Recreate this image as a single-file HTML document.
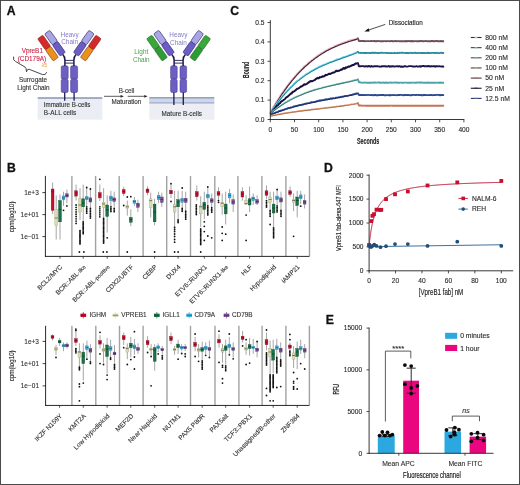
<!DOCTYPE html>
<html><head><meta charset="utf-8"><style>
html,body{margin:0;padding:0;background:#fff;}
body{width:520px;height:485px;overflow:hidden;font-family:"Liberation Sans",sans-serif;}
svg{display:block;will-change:transform;}
</style></head><body>
<svg width="520" height="485" viewBox="0 0 520 485">
<rect x="0" y="0" width="520" height="485" fill="#fff"/>
<text x="6.8" y="15.2" font-size="12.2" font-weight="bold" font-family="Liberation Sans, sans-serif" fill="#111" stroke="#111" stroke-width="0.3">A</text>
<rect x="37.7" y="98" width="64.6" height="21.6" fill="#eaedf3"/>
<rect x="37.7" y="97.2" width="64.6" height="1.6" fill="#8e9cbb"/>
<rect x="149.3" y="98" width="65" height="21.7" fill="#eceef4"/>
<rect x="149.3" y="98.6" width="65" height="3.8" fill="#cdd6ec"/>
<rect x="149.3" y="97.1" width="65" height="1.5" fill="#8a9ab8"/>
<rect x="149.3" y="102.3" width="65" height="1.2" fill="#9aa6c2"/>
<line x1="64.7" y1="90" x2="64.7" y2="100.8" stroke="#1e1a4a" stroke-width="1.3"/>
<rect x="61.2" y="65.8" width="7" height="13.4" rx="1.6" fill="#6d5fc2" stroke="#3b3286" stroke-width="0.5"/>
<rect x="61.2" y="79.2" width="7" height="13.3" rx="1.6" fill="#6d5fc2" stroke="#3b3286" stroke-width="0.5"/>
<line x1="74.10000000000001" y1="90" x2="74.10000000000001" y2="100.8" stroke="#1e1a4a" stroke-width="1.3"/>
<rect x="70.60000000000001" y="65.8" width="7" height="13.4" rx="1.6" fill="#6d5fc2" stroke="#3b3286" stroke-width="0.5"/>
<rect x="70.60000000000001" y="79.2" width="7" height="13.3" rx="1.6" fill="#6d5fc2" stroke="#3b3286" stroke-width="0.5"/>
<path d="M62.80,54.6 Q64.90,56.5 64.90,60 L64.90,66" fill="none" stroke="#1e1a4a" stroke-width="1.5"/>
<path d="M76.00,54.6 Q73.90,56.5 73.90,60 L73.90,66" fill="none" stroke="#1e1a4a" stroke-width="1.5"/>
<line x1="64.9" y1="60.4" x2="73.9" y2="60.4" stroke="#1e1a4a" stroke-width="0.9"/>
<line x1="64.9" y1="63.1" x2="73.9" y2="63.1" stroke="#1e1a4a" stroke-width="0.9"/>
<g transform="translate(62.80,54.3) rotate(-35)">
<rect x="-3.25" y="-27.2" width="6.5" height="13.6" rx="1.5" fill="#aaa6e4" stroke="#2c2672" stroke-width="0.6"/>
<rect x="-3.25" y="-13.6" width="6.5" height="13.6" rx="1.5" fill="#6b5dc4" stroke="#2c2672" stroke-width="0.6"/>
<rect x="-11.8" y="-27.2" width="6.5" height="13.6" rx="1.2" fill="#d42a2a" stroke="#7a2020" stroke-width="0.5"/>
<rect x="-11.8" y="-13.6" width="6.5" height="13.6" rx="1.2" fill="#e8921a" stroke="#7a2020" stroke-width="0.5"/>
</g>
<g transform="translate(76.00,54.3) rotate(35)">
<rect x="-3.25" y="-27.2" width="6.5" height="13.6" rx="1.5" fill="#aaa6e4" stroke="#2c2672" stroke-width="0.6"/>
<rect x="-3.25" y="-13.6" width="6.5" height="13.6" rx="1.5" fill="#6b5dc4" stroke="#2c2672" stroke-width="0.6"/>
<rect x="5.3" y="-27.2" width="6.5" height="13.6" rx="1.2" fill="#d42a2a" stroke="#7a2020" stroke-width="0.5"/>
<rect x="5.3" y="-13.6" width="6.5" height="13.6" rx="1.2" fill="#e8921a" stroke="#7a2020" stroke-width="0.5"/>
</g>
<line x1="173.9" y1="90" x2="173.9" y2="105" stroke="#1e1a4a" stroke-width="1.3"/>
<rect x="170.6" y="65.8" width="6.6" height="13.4" rx="1.6" fill="#6d5fc2" stroke="#3b3286" stroke-width="0.5"/>
<rect x="170.6" y="79.2" width="6.6" height="13.3" rx="1.6" fill="#6d5fc2" stroke="#3b3286" stroke-width="0.5"/>
<line x1="183.29999999999998" y1="90" x2="183.29999999999998" y2="105" stroke="#1e1a4a" stroke-width="1.3"/>
<rect x="179.99999999999997" y="65.8" width="6.6" height="13.4" rx="1.6" fill="#6d5fc2" stroke="#3b3286" stroke-width="0.5"/>
<rect x="179.99999999999997" y="79.2" width="6.6" height="13.3" rx="1.6" fill="#6d5fc2" stroke="#3b3286" stroke-width="0.5"/>
<path d="M171.80,54.6 Q174.10,56.5 174.10,60 L174.10,66" fill="none" stroke="#1e1a4a" stroke-width="1.5"/>
<path d="M185.40,54.6 Q183.10,56.5 183.10,60 L183.10,66" fill="none" stroke="#1e1a4a" stroke-width="1.5"/>
<line x1="174.1" y1="60.4" x2="183.1" y2="60.4" stroke="#1e1a4a" stroke-width="0.9"/>
<line x1="174.1" y1="63.1" x2="183.1" y2="63.1" stroke="#1e1a4a" stroke-width="0.9"/>
<g transform="translate(171.80,54.3) rotate(-35)">
<rect x="-3.25" y="-27.2" width="6.5" height="13.6" rx="1.5" fill="#aaa6e4" stroke="#2c2672" stroke-width="0.6"/>
<rect x="-3.25" y="-13.6" width="6.5" height="13.6" rx="1.5" fill="#6b5dc4" stroke="#2c2672" stroke-width="0.6"/>
<rect x="-11.8" y="-27.2" width="6.5" height="13.6" rx="1.2" fill="#38a838" stroke="#1f5a22" stroke-width="0.5"/>
<rect x="-11.8" y="-13.6" width="6.5" height="13.6" rx="1.2" fill="#2e9c34" stroke="#1f5a22" stroke-width="0.5"/>
</g>
<g transform="translate(185.40,54.3) rotate(35)">
<rect x="-3.25" y="-27.2" width="6.5" height="13.6" rx="1.5" fill="#aaa6e4" stroke="#2c2672" stroke-width="0.6"/>
<rect x="-3.25" y="-13.6" width="6.5" height="13.6" rx="1.5" fill="#6b5dc4" stroke="#2c2672" stroke-width="0.6"/>
<rect x="5.3" y="-27.2" width="6.5" height="13.6" rx="1.2" fill="#38a838" stroke="#1f5a22" stroke-width="0.5"/>
<rect x="5.3" y="-13.6" width="6.5" height="13.6" rx="1.2" fill="#2e9c34" stroke="#1f5a22" stroke-width="0.5"/>
</g>
<text x="69.6" y="36.8" font-size="6.4" text-anchor="middle" font-family="Liberation Sans, sans-serif" fill="#837ac4">Heavy</text>
<text x="69.6" y="44" font-size="6.4" text-anchor="middle" font-family="Liberation Sans, sans-serif" fill="#837ac4">Chain</text>
<text x="178.4" y="36.6" font-size="6.4" text-anchor="middle" font-family="Liberation Sans, sans-serif" fill="#837ac4">Heavy</text>
<text x="178.4" y="44.7" font-size="6.4" text-anchor="middle" font-family="Liberation Sans, sans-serif" fill="#837ac4">Chain</text>
<text x="141.3" y="54" font-size="6.4" text-anchor="middle" font-family="Liberation Sans, sans-serif" fill="#4c9e50">Light</text>
<text x="141.3" y="61.8" font-size="6.4" text-anchor="middle" font-family="Liberation Sans, sans-serif" fill="#4c9e50">Chain</text>
<text x="32.3" y="52.6" font-size="6.4" text-anchor="middle" font-family="Liberation Sans, sans-serif" fill="#cf2444" stroke="#cf2444" stroke-width="0.12">VpreB1</text>
<text x="31.9" y="60.9" font-size="6.4" text-anchor="middle" font-family="Liberation Sans, sans-serif" fill="#cf2444" stroke="#cf2444" stroke-width="0.12">(CD179A)</text>
<text x="44.5" y="66.7" font-size="5.3" text-anchor="middle" font-family="Liberation Sans, sans-serif" fill="#e39a34">λ5</text>
<path d="M13.6,56.6 Q12.7,60.5 15.6,61.5 L25,67 Q26.5,68 26.5,71.8 Q27,68.8 29.2,69.3 L42.6,74.6 Q45.6,75.5 46.7,72.2" fill="none" stroke="#333" stroke-width="0.9"/>
<text x="33.1" y="82.4" font-size="6.4" text-anchor="middle" font-family="Liberation Sans, sans-serif" fill="#333" stroke="#333" stroke-width="0.12">Surrogate</text>
<text x="33.4" y="89.8" font-size="6.4" text-anchor="middle" font-family="Liberation Sans, sans-serif" fill="#333" stroke="#333" stroke-width="0.12">Light Chain</text>
<text x="43.8" y="107.2" font-size="6.3" font-family="Liberation Sans, sans-serif" fill="#333" textLength="46.5" lengthAdjust="spacingAndGlyphs" stroke="#333" stroke-width="0.12">Immature B-cells</text>
<text x="43.8" y="114.5" font-size="6.3" font-family="Liberation Sans, sans-serif" fill="#333" textLength="32.4" lengthAdjust="spacingAndGlyphs" stroke="#333" stroke-width="0.12">B-ALL cells</text>
<text x="181.8" y="115.5" font-size="6.3" text-anchor="middle" font-family="Liberation Sans, sans-serif" fill="#333" textLength="40.4" lengthAdjust="spacingAndGlyphs" stroke="#333" stroke-width="0.12">Mature B-cells</text>
<line x1="104" y1="96.3" x2="121.5" y2="96.3" stroke="#333" stroke-width="0.8"/><path d="M123.8,96.3 L120.6,94.9 L120.6,97.7 Z" fill="#222"/>
<line x1="127.7" y1="96.3" x2="145.2" y2="96.3" stroke="#333" stroke-width="0.8"/><path d="M147.5,96.3 L144.3,94.9 L144.3,97.7 Z" fill="#222"/>
<text x="126.5" y="93" font-size="6.3" text-anchor="middle" font-family="Liberation Sans, sans-serif" fill="#333" stroke="#333" stroke-width="0.12">B-cell</text>
<text x="126.5" y="103.9" font-size="6.3" text-anchor="middle" font-family="Liberation Sans, sans-serif" fill="#333" stroke="#333" stroke-width="0.12">Maturation</text>
<text x="6.9" y="171.6" font-size="12.2" font-weight="bold" font-family="Liberation Sans, sans-serif" fill="#111" stroke="#111" stroke-width="0.3">B</text>
<line x1="71.9" y1="175.9" x2="71.9" y2="256.4" stroke="#a2a2a2" stroke-width="1.4"/>
<line x1="95.60000000000001" y1="175.9" x2="95.60000000000001" y2="256.4" stroke="#a2a2a2" stroke-width="1.4"/>
<line x1="119.2" y1="175.9" x2="119.2" y2="256.4" stroke="#a2a2a2" stroke-width="1.4"/>
<line x1="143.1" y1="175.9" x2="143.1" y2="256.4" stroke="#a2a2a2" stroke-width="1.4"/>
<line x1="166.70000000000002" y1="175.9" x2="166.70000000000002" y2="256.4" stroke="#a2a2a2" stroke-width="1.4"/>
<line x1="190.5" y1="175.9" x2="190.5" y2="256.4" stroke="#a2a2a2" stroke-width="1.4"/>
<line x1="214.8" y1="175.9" x2="214.8" y2="256.4" stroke="#a2a2a2" stroke-width="1.4"/>
<line x1="237.9" y1="175.9" x2="237.9" y2="256.4" stroke="#a2a2a2" stroke-width="1.4"/>
<line x1="261.9" y1="175.9" x2="261.9" y2="256.4" stroke="#a2a2a2" stroke-width="1.4"/>
<line x1="285.9" y1="175.9" x2="285.9" y2="256.4" stroke="#a2a2a2" stroke-width="1.4"/>
<line x1="309.5" y1="175.9" x2="309.5" y2="256.4" stroke="#a2a2a2" stroke-width="1.4"/>
<line x1="45.4" y1="175.9" x2="45.4" y2="256.79999999999995" stroke="#111" stroke-width="0.9"/>
<line x1="45.0" y1="256.4" x2="309.40000000000003" y2="256.4" stroke="#111" stroke-width="0.9"/>
<line x1="52.6" y1="182.5" x2="52.6" y2="214" stroke="#888" stroke-width="0.75"/>
<rect x="51.20" y="189" width="2.8" height="21.30" fill="#c40f2e" stroke="#8e0c22" stroke-width="0.4"/>
<line x1="51.20" y1="191.7" x2="54.00" y2="191.7" stroke="#6a0818" stroke-width="0.7"/>
<line x1="56.2" y1="195.3" x2="56.2" y2="239.5" stroke="#888" stroke-width="0.75"/>
<rect x="54.80" y="209.4" width="2.8" height="16.00" fill="#dcdcb2" stroke="#a8a880" stroke-width="0.4"/>
<line x1="54.80" y1="218" x2="57.60" y2="218" stroke="#4a4a30" stroke-width="0.7"/>
<line x1="60" y1="194.4" x2="60" y2="239.5" stroke="#888" stroke-width="0.75"/>
<rect x="58.60" y="200.6" width="2.8" height="21.20" fill="#1a7249" stroke="#0e4a2e" stroke-width="0.4"/>
<line x1="58.60" y1="209.4" x2="61.40" y2="209.4" stroke="#0a3a22" stroke-width="0.7"/>
<line x1="63.5" y1="191.7" x2="63.5" y2="205.9" stroke="#888" stroke-width="0.75"/>
<rect x="62.10" y="196" width="2.8" height="3.70" fill="#3eaee0" stroke="#2a7aa8" stroke-width="0.4"/>
<line x1="62.10" y1="198" x2="64.90" y2="198" stroke="#15587a" stroke-width="0.7"/>
<circle cx="63.5" cy="210.3" r="0.9" fill="#111"/>
<line x1="66.9" y1="189.6" x2="66.9" y2="203.2" stroke="#888" stroke-width="0.75"/>
<rect x="65.50" y="193.8" width="2.8" height="3.20" fill="#7a5296" stroke="#4a2e60" stroke-width="0.4"/>
<line x1="65.50" y1="195.5" x2="68.30" y2="195.5" stroke="#3a2048" stroke-width="0.7"/>
<circle cx="66.9" cy="205.9" r="0.9" fill="#111"/>
<line x1="76.1" y1="184.6" x2="76.1" y2="200.6" stroke="#888" stroke-width="0.75"/>
<rect x="74.70" y="190.8" width="2.8" height="5.30" fill="#c40f2e" stroke="#8e0c22" stroke-width="0.4"/>
<line x1="74.70" y1="193" x2="77.50" y2="193" stroke="#6a0818" stroke-width="0.7"/>
<circle cx="76.1" cy="205" r="0.9" fill="#111"/>
<circle cx="76.1" cy="207.3" r="0.9" fill="#111"/>
<circle cx="76.1" cy="209.60000000000002" r="0.9" fill="#111"/>
<circle cx="76.1" cy="211.90000000000003" r="0.9" fill="#111"/>
<circle cx="76.1" cy="214.20000000000005" r="0.9" fill="#111"/>
<circle cx="76.1" cy="216.50000000000006" r="0.9" fill="#111"/>
<circle cx="76.1" cy="218.80000000000007" r="0.9" fill="#111"/>
<circle cx="76.1" cy="221.10000000000008" r="0.9" fill="#111"/>
<circle cx="76.1" cy="223.4000000000001" r="0.9" fill="#111"/>
<line x1="80" y1="188.2" x2="80" y2="220" stroke="#888" stroke-width="0.75"/>
<rect x="78.60" y="198.8" width="2.8" height="13.20" fill="#dcdcb2" stroke="#a8a880" stroke-width="0.4"/>
<line x1="78.60" y1="205" x2="81.40" y2="205" stroke="#4a4a30" stroke-width="0.7"/>
<circle cx="80" cy="230.7" r="0.9" fill="#111"/>
<circle cx="80" cy="231.89999999999998" r="0.9" fill="#111"/>
<circle cx="80" cy="233.09999999999997" r="0.9" fill="#111"/>
<circle cx="80" cy="234.29999999999995" r="0.9" fill="#111"/>
<circle cx="80" cy="235.49999999999994" r="0.9" fill="#111"/>
<circle cx="80" cy="236.69999999999993" r="0.9" fill="#111"/>
<circle cx="80" cy="237.89999999999992" r="0.9" fill="#111"/>
<circle cx="80" cy="239.0999999999999" r="0.9" fill="#111"/>
<circle cx="80" cy="240.2999999999999" r="0.9" fill="#111"/>
<circle cx="80" cy="241.4999999999999" r="0.9" fill="#111"/>
<circle cx="80" cy="242.69999999999987" r="0.9" fill="#111"/>
<circle cx="80" cy="243.89999999999986" r="0.9" fill="#111"/>
<circle cx="79.4" cy="252" r="0.9" fill="#111"/>
<circle cx="83.9" cy="252" r="0.9" fill="#111"/>
<line x1="83.2" y1="184.6" x2="83.2" y2="221.8" stroke="#888" stroke-width="0.75"/>
<rect x="81.80" y="198.8" width="2.8" height="8.00" fill="#1a7249" stroke="#0e4a2e" stroke-width="0.4"/>
<line x1="81.80" y1="203" x2="84.60" y2="203" stroke="#0a3a22" stroke-width="0.7"/>
<circle cx="83.2" cy="222" r="0.9" fill="#111"/>
<circle cx="83.2" cy="223.3" r="0.9" fill="#111"/>
<circle cx="83.2" cy="224.60000000000002" r="0.9" fill="#111"/>
<circle cx="83.2" cy="225.90000000000003" r="0.9" fill="#111"/>
<circle cx="83.2" cy="227.20000000000005" r="0.9" fill="#111"/>
<circle cx="83.2" cy="228.50000000000006" r="0.9" fill="#111"/>
<circle cx="83.2" cy="229.80000000000007" r="0.9" fill="#111"/>
<circle cx="83.2" cy="231.10000000000008" r="0.9" fill="#111"/>
<circle cx="83.2" cy="232.4000000000001" r="0.9" fill="#111"/>
<circle cx="83.2" cy="233.7000000000001" r="0.9" fill="#111"/>
<line x1="86.7" y1="187.3" x2="86.7" y2="205.9" stroke="#888" stroke-width="0.75"/>
<rect x="85.30" y="196.7" width="2.8" height="3.00" fill="#3eaee0" stroke="#2a7aa8" stroke-width="0.4"/>
<line x1="85.30" y1="198" x2="88.10" y2="198" stroke="#15587a" stroke-width="0.7"/>
<circle cx="86.7" cy="206.8" r="0.9" fill="#111"/>
<circle cx="86.7" cy="208.4" r="0.9" fill="#111"/>
<circle cx="86.7" cy="210.0" r="0.9" fill="#111"/>
<circle cx="86.7" cy="211.6" r="0.9" fill="#111"/>
<circle cx="86.7" cy="213.2" r="0.9" fill="#111"/>
<circle cx="86.7" cy="187.5" r="0.9" fill="#111"/>
<line x1="90.4" y1="188.2" x2="90.4" y2="207.7" stroke="#888" stroke-width="0.75"/>
<rect x="89.00" y="197.9" width="2.8" height="4.10" fill="#7a5296" stroke="#4a2e60" stroke-width="0.4"/>
<line x1="89.00" y1="200" x2="91.80" y2="200" stroke="#3a2048" stroke-width="0.7"/>
<circle cx="90.4" cy="208.5" r="0.9" fill="#111"/>
<circle cx="90.4" cy="210.1" r="0.9" fill="#111"/>
<circle cx="90.4" cy="211.7" r="0.9" fill="#111"/>
<circle cx="90.4" cy="213.29999999999998" r="0.9" fill="#111"/>
<circle cx="90.4" cy="214.89999999999998" r="0.9" fill="#111"/>
<circle cx="90.4" cy="216.49999999999997" r="0.9" fill="#111"/>
<circle cx="90.4" cy="218.09999999999997" r="0.9" fill="#111"/>
<circle cx="90.4" cy="189" r="0.9" fill="#111"/>
<line x1="99.8" y1="184.6" x2="99.8" y2="201" stroke="#888" stroke-width="0.75"/>
<rect x="98.40" y="192.6" width="2.8" height="5.30" fill="#c40f2e" stroke="#8e0c22" stroke-width="0.4"/>
<line x1="98.40" y1="195" x2="101.20" y2="195" stroke="#6a0818" stroke-width="0.7"/>
<circle cx="99.8" cy="179.3" r="0.9" fill="#111"/>
<circle cx="99.8" cy="206.8" r="0.9" fill="#111"/>
<circle cx="99.8" cy="208.8" r="0.9" fill="#111"/>
<circle cx="99.8" cy="210.8" r="0.9" fill="#111"/>
<circle cx="99.8" cy="212.8" r="0.9" fill="#111"/>
<circle cx="99.8" cy="214.8" r="0.9" fill="#111"/>
<circle cx="99.8" cy="216.8" r="0.9" fill="#111"/>
<line x1="103.6" y1="188.2" x2="103.6" y2="218.3" stroke="#888" stroke-width="0.75"/>
<rect x="102.20" y="202.3" width="2.8" height="5.40" fill="#dcdcb2" stroke="#a8a880" stroke-width="0.4"/>
<line x1="102.20" y1="204" x2="105.00" y2="204" stroke="#4a4a30" stroke-width="0.7"/>
<circle cx="103.6" cy="218.3" r="0.9" fill="#111"/>
<circle cx="103.6" cy="219.60000000000002" r="0.9" fill="#111"/>
<circle cx="103.6" cy="220.90000000000003" r="0.9" fill="#111"/>
<circle cx="103.6" cy="222.20000000000005" r="0.9" fill="#111"/>
<circle cx="103.6" cy="223.50000000000006" r="0.9" fill="#111"/>
<circle cx="103.6" cy="224.80000000000007" r="0.9" fill="#111"/>
<circle cx="103.6" cy="226.10000000000008" r="0.9" fill="#111"/>
<circle cx="103.6" cy="227.4000000000001" r="0.9" fill="#111"/>
<circle cx="103.6" cy="228.7000000000001" r="0.9" fill="#111"/>
<circle cx="103.6" cy="230.0000000000001" r="0.9" fill="#111"/>
<circle cx="103.6" cy="231.30000000000013" r="0.9" fill="#111"/>
<circle cx="103.6" cy="232.60000000000014" r="0.9" fill="#111"/>
<circle cx="103.6" cy="233.90000000000015" r="0.9" fill="#111"/>
<circle cx="103.6" cy="235.20000000000016" r="0.9" fill="#111"/>
<circle cx="103.6" cy="236.50000000000017" r="0.9" fill="#111"/>
<circle cx="103.6" cy="237.80000000000018" r="0.9" fill="#111"/>
<circle cx="103.6" cy="239.1000000000002" r="0.9" fill="#111"/>
<circle cx="103.6" cy="240.4000000000002" r="0.9" fill="#111"/>
<circle cx="103.6" cy="241.70000000000022" r="0.9" fill="#111"/>
<circle cx="103.6" cy="243.00000000000023" r="0.9" fill="#111"/>
<circle cx="103.3" cy="252" r="0.9" fill="#111"/>
<circle cx="106.9" cy="252" r="0.9" fill="#111"/>
<line x1="107.2" y1="195.3" x2="107.2" y2="232.5" stroke="#888" stroke-width="0.75"/>
<rect x="105.80" y="205" width="2.8" height="11.50" fill="#1a7249" stroke="#0e4a2e" stroke-width="0.4"/>
<line x1="105.80" y1="210" x2="108.60" y2="210" stroke="#0a3a22" stroke-width="0.7"/>
<circle cx="107.2" cy="237.8" r="0.9" fill="#111"/>
<line x1="110.9" y1="190.8" x2="110.9" y2="206.8" stroke="#888" stroke-width="0.75"/>
<rect x="109.50" y="196.1" width="2.8" height="4.50" fill="#3eaee0" stroke="#2a7aa8" stroke-width="0.4"/>
<line x1="109.50" y1="198" x2="112.30" y2="198" stroke="#15587a" stroke-width="0.7"/>
<circle cx="110.9" cy="206.8" r="0.9" fill="#111"/>
<circle cx="110.9" cy="208.4" r="0.9" fill="#111"/>
<circle cx="110.9" cy="210.0" r="0.9" fill="#111"/>
<circle cx="110.9" cy="211.6" r="0.9" fill="#111"/>
<line x1="114.2" y1="191.7" x2="114.2" y2="206.8" stroke="#888" stroke-width="0.75"/>
<rect x="112.80" y="197.9" width="2.8" height="3.60" fill="#7a5296" stroke="#4a2e60" stroke-width="0.4"/>
<line x1="112.80" y1="199.5" x2="115.60" y2="199.5" stroke="#3a2048" stroke-width="0.7"/>
<circle cx="114.2" cy="208.5" r="0.9" fill="#111"/>
<circle cx="114.2" cy="210.1" r="0.9" fill="#111"/>
<circle cx="114.2" cy="211.7" r="0.9" fill="#111"/>
<line x1="123.7" y1="186.8" x2="123.7" y2="196.1" stroke="#888" stroke-width="0.75"/>
<rect x="122.30" y="189.6" width="2.8" height="3.90" fill="#c40f2e" stroke="#8e0c22" stroke-width="0.4"/>
<line x1="122.30" y1="191.5" x2="125.10" y2="191.5" stroke="#6a0818" stroke-width="0.7"/>
<circle cx="123.7" cy="205.5" r="0.9" fill="#111"/>
<line x1="127.3" y1="200.6" x2="127.3" y2="215.6" stroke="#888" stroke-width="0.75"/>
<rect x="125.90" y="205.5" width="2.8" height="3.00" fill="#dcdcb2" stroke="#a8a880" stroke-width="0.4"/>
<line x1="125.90" y1="206.8" x2="128.70" y2="206.8" stroke="#4a4a30" stroke-width="0.7"/>
<circle cx="127.3" cy="197" r="0.9" fill="#111"/>
<circle cx="127.3" cy="252" r="0.9" fill="#111"/>
<line x1="130.8" y1="209.4" x2="130.8" y2="226.3" stroke="#888" stroke-width="0.75"/>
<rect x="129.40" y="217.4" width="2.8" height="4.80" fill="#1a7249" stroke="#0e4a2e" stroke-width="0.4"/>
<line x1="129.40" y1="219.5" x2="132.20" y2="219.5" stroke="#0a3a22" stroke-width="0.7"/>
<circle cx="130.8" cy="196.7" r="0.9" fill="#111"/>
<line x1="134.4" y1="197" x2="134.4" y2="205.9" stroke="#888" stroke-width="0.75"/>
<rect x="133.00" y="200.2" width="2.8" height="3.00" fill="#3eaee0" stroke="#2a7aa8" stroke-width="0.4"/>
<line x1="133.00" y1="201.5" x2="135.80" y2="201.5" stroke="#15587a" stroke-width="0.7"/>
<line x1="137.9" y1="199.7" x2="137.9" y2="212.1" stroke="#888" stroke-width="0.75"/>
<rect x="136.50" y="203.2" width="2.8" height="4.10" fill="#7a5296" stroke="#4a2e60" stroke-width="0.4"/>
<line x1="136.50" y1="205" x2="139.30" y2="205" stroke="#3a2048" stroke-width="0.7"/>
<line x1="147.5" y1="186.4" x2="147.5" y2="195.3" stroke="#888" stroke-width="0.75"/>
<rect x="146.10" y="189" width="2.8" height="3.60" fill="#c40f2e" stroke="#8e0c22" stroke-width="0.4"/>
<line x1="146.10" y1="190.5" x2="148.90" y2="190.5" stroke="#6a0818" stroke-width="0.7"/>
<line x1="150.7" y1="192.6" x2="150.7" y2="217.4" stroke="#888" stroke-width="0.75"/>
<rect x="149.30" y="198.8" width="2.8" height="8.90" fill="#dcdcb2" stroke="#a8a880" stroke-width="0.4"/>
<line x1="149.30" y1="200.6" x2="152.10" y2="200.6" stroke="#4a4a30" stroke-width="0.7"/>
<line x1="154.6" y1="198.8" x2="154.6" y2="225.4" stroke="#888" stroke-width="0.75"/>
<rect x="153.20" y="204.1" width="2.8" height="17.70" fill="#1a7249" stroke="#0e4a2e" stroke-width="0.4"/>
<line x1="153.20" y1="212" x2="156.00" y2="212" stroke="#0a3a22" stroke-width="0.7"/>
<circle cx="154.6" cy="252" r="0.9" fill="#111"/>
<line x1="158.6" y1="191.7" x2="158.6" y2="203.2" stroke="#888" stroke-width="0.75"/>
<rect x="157.20" y="195.3" width="2.8" height="4.40" fill="#3eaee0" stroke="#2a7aa8" stroke-width="0.4"/>
<line x1="157.20" y1="197.5" x2="160.00" y2="197.5" stroke="#15587a" stroke-width="0.7"/>
<line x1="161.8" y1="192.6" x2="161.8" y2="206.8" stroke="#888" stroke-width="0.75"/>
<rect x="160.40" y="197" width="2.8" height="5.30" fill="#7a5296" stroke="#4a2e60" stroke-width="0.4"/>
<line x1="160.40" y1="199.5" x2="163.20" y2="199.5" stroke="#3a2048" stroke-width="0.7"/>
<line x1="171" y1="184.3" x2="171" y2="198" stroke="#888" stroke-width="0.75"/>
<rect x="169.60" y="190.3" width="2.8" height="3.50" fill="#c40f2e" stroke="#8e0c22" stroke-width="0.4"/>
<line x1="169.60" y1="192" x2="172.40" y2="192" stroke="#6a0818" stroke-width="0.7"/>
<circle cx="171" cy="183.7" r="0.9" fill="#111"/>
<circle cx="171" cy="201.5" r="0.9" fill="#111"/>
<line x1="174.6" y1="190.8" x2="174.6" y2="227.1" stroke="#888" stroke-width="0.75"/>
<rect x="173.20" y="204.1" width="2.8" height="8.00" fill="#dcdcb2" stroke="#a8a880" stroke-width="0.4"/>
<line x1="173.20" y1="206.8" x2="176.00" y2="206.8" stroke="#4a4a30" stroke-width="0.7"/>
<circle cx="174.6" cy="227.5" r="0.9" fill="#111"/>
<circle cx="174.6" cy="229.5" r="0.9" fill="#111"/>
<circle cx="174.6" cy="231.5" r="0.9" fill="#111"/>
<circle cx="174.6" cy="234" r="0.9" fill="#111"/>
<circle cx="174.6" cy="236.5" r="0.9" fill="#111"/>
<circle cx="174.6" cy="239.5" r="0.9" fill="#111"/>
<circle cx="174.6" cy="242.2" r="0.9" fill="#111"/>
<circle cx="174.6" cy="252" r="0.9" fill="#111"/>
<line x1="178.1" y1="190.8" x2="178.1" y2="220" stroke="#888" stroke-width="0.75"/>
<rect x="176.70" y="199.7" width="2.8" height="7.10" fill="#1a7249" stroke="#0e4a2e" stroke-width="0.4"/>
<line x1="176.70" y1="202" x2="179.50" y2="202" stroke="#0a3a22" stroke-width="0.7"/>
<circle cx="178.1" cy="220" r="0.9" fill="#111"/>
<circle cx="178.1" cy="221.3" r="0.9" fill="#111"/>
<circle cx="178.1" cy="222.60000000000002" r="0.9" fill="#111"/>
<circle cx="178.1" cy="252" r="0.9" fill="#111"/>
<line x1="182.2" y1="190.8" x2="182.2" y2="207.7" stroke="#888" stroke-width="0.75"/>
<rect x="180.80" y="198.4" width="2.8" height="3.90" fill="#3eaee0" stroke="#2a7aa8" stroke-width="0.4"/>
<line x1="180.80" y1="200" x2="183.60" y2="200" stroke="#15587a" stroke-width="0.7"/>
<circle cx="182.2" cy="208.5" r="0.9" fill="#111"/>
<circle cx="182.2" cy="209.9" r="0.9" fill="#111"/>
<circle cx="182.2" cy="211.3" r="0.9" fill="#111"/>
<circle cx="182.2" cy="188" r="0.9" fill="#111"/>
<line x1="185.7" y1="191.7" x2="185.7" y2="210.3" stroke="#888" stroke-width="0.75"/>
<rect x="184.30" y="198.4" width="2.8" height="3.90" fill="#7a5296" stroke="#4a2e60" stroke-width="0.4"/>
<line x1="184.30" y1="200" x2="187.10" y2="200" stroke="#3a2048" stroke-width="0.7"/>
<circle cx="185.7" cy="211.2" r="0.9" fill="#111"/>
<circle cx="185.7" cy="212.79999999999998" r="0.9" fill="#111"/>
<circle cx="185.7" cy="214.39999999999998" r="0.9" fill="#111"/>
<circle cx="185.7" cy="215.99999999999997" r="0.9" fill="#111"/>
<circle cx="185.7" cy="217.59999999999997" r="0.9" fill="#111"/>
<circle cx="185.7" cy="219.19999999999996" r="0.9" fill="#111"/>
<line x1="196.8" y1="185.5" x2="196.8" y2="200.6" stroke="#888" stroke-width="0.75"/>
<rect x="195.40" y="191.7" width="2.8" height="5.00" fill="#c40f2e" stroke="#8e0c22" stroke-width="0.4"/>
<line x1="195.40" y1="194" x2="198.20" y2="194" stroke="#6a0818" stroke-width="0.7"/>
<circle cx="196.3" cy="205" r="0.9" fill="#111"/>
<circle cx="196.3" cy="206.6" r="0.9" fill="#111"/>
<circle cx="196.3" cy="208.2" r="0.9" fill="#111"/>
<circle cx="196.3" cy="209.79999999999998" r="0.9" fill="#111"/>
<circle cx="196.3" cy="211.39999999999998" r="0.9" fill="#111"/>
<circle cx="196.3" cy="212.99999999999997" r="0.9" fill="#111"/>
<circle cx="196.3" cy="214.59999999999997" r="0.9" fill="#111"/>
<line x1="200.7" y1="196.1" x2="200.7" y2="227" stroke="#888" stroke-width="0.75"/>
<rect x="199.30" y="205.9" width="2.8" height="8.00" fill="#dcdcb2" stroke="#a8a880" stroke-width="0.4"/>
<line x1="199.30" y1="206.8" x2="202.10" y2="206.8" stroke="#4a4a30" stroke-width="0.7"/>
<circle cx="200.7" cy="229" r="0.9" fill="#111"/>
<circle cx="200.7" cy="230.3" r="0.9" fill="#111"/>
<circle cx="200.7" cy="231.60000000000002" r="0.9" fill="#111"/>
<circle cx="200.7" cy="232.90000000000003" r="0.9" fill="#111"/>
<circle cx="200.7" cy="234.20000000000005" r="0.9" fill="#111"/>
<circle cx="200.7" cy="235.50000000000006" r="0.9" fill="#111"/>
<circle cx="200.7" cy="236.80000000000007" r="0.9" fill="#111"/>
<circle cx="200.7" cy="238.10000000000008" r="0.9" fill="#111"/>
<circle cx="200.7" cy="239.4000000000001" r="0.9" fill="#111"/>
<circle cx="200.7" cy="240.7000000000001" r="0.9" fill="#111"/>
<circle cx="200.7" cy="242.0000000000001" r="0.9" fill="#111"/>
<circle cx="200.7" cy="243.30000000000013" r="0.9" fill="#111"/>
<circle cx="200.7" cy="244.60000000000014" r="0.9" fill="#111"/>
<circle cx="200.7" cy="252" r="0.9" fill="#111"/>
<line x1="204.3" y1="191.7" x2="204.3" y2="219.2" stroke="#888" stroke-width="0.75"/>
<rect x="202.90" y="202.3" width="2.8" height="7.10" fill="#1a7249" stroke="#0e4a2e" stroke-width="0.4"/>
<line x1="202.90" y1="205" x2="205.70" y2="205" stroke="#0a3a22" stroke-width="0.7"/>
<circle cx="204.3" cy="221.8" r="0.9" fill="#111"/>
<circle cx="204.3" cy="226.3" r="0.9" fill="#111"/>
<circle cx="204.3" cy="231.6" r="0.9" fill="#111"/>
<circle cx="204.3" cy="240.4" r="0.9" fill="#111"/>
<line x1="207.8" y1="188.2" x2="207.8" y2="205" stroke="#888" stroke-width="0.75"/>
<rect x="206.40" y="194.4" width="2.8" height="3.50" fill="#3eaee0" stroke="#2a7aa8" stroke-width="0.4"/>
<line x1="206.40" y1="196" x2="209.20" y2="196" stroke="#15587a" stroke-width="0.7"/>
<circle cx="207.8" cy="205.9" r="0.9" fill="#111"/>
<circle cx="207.8" cy="207.4" r="0.9" fill="#111"/>
<circle cx="207.8" cy="208.9" r="0.9" fill="#111"/>
<circle cx="207.8" cy="210.4" r="0.9" fill="#111"/>
<circle cx="207.8" cy="211.9" r="0.9" fill="#111"/>
<circle cx="207.8" cy="213.4" r="0.9" fill="#111"/>
<circle cx="207.8" cy="214.9" r="0.9" fill="#111"/>
<circle cx="207.8" cy="236" r="0.9" fill="#111"/>
<circle cx="207.8" cy="187" r="0.9" fill="#111"/>
<line x1="211.7" y1="193.5" x2="211.7" y2="206.8" stroke="#888" stroke-width="0.75"/>
<rect x="210.30" y="198.8" width="2.8" height="3.50" fill="#7a5296" stroke="#4a2e60" stroke-width="0.4"/>
<line x1="210.30" y1="200.5" x2="213.10" y2="200.5" stroke="#3a2048" stroke-width="0.7"/>
<circle cx="211.7" cy="207.7" r="0.9" fill="#111"/>
<circle cx="211.7" cy="209.2" r="0.9" fill="#111"/>
<circle cx="211.7" cy="210.7" r="0.9" fill="#111"/>
<circle cx="211.7" cy="212.2" r="0.9" fill="#111"/>
<circle cx="211.7" cy="237.8" r="0.9" fill="#111"/>
<line x1="218.5" y1="187.3" x2="218.5" y2="199.7" stroke="#888" stroke-width="0.75"/>
<rect x="217.10" y="191.7" width="2.8" height="3.60" fill="#c40f2e" stroke="#8e0c22" stroke-width="0.4"/>
<line x1="217.10" y1="193.5" x2="219.90" y2="193.5" stroke="#6a0818" stroke-width="0.7"/>
<circle cx="218.5" cy="200.6" r="0.9" fill="#111"/>
<circle cx="218.5" cy="202.3" r="0.9" fill="#111"/>
<line x1="222.2" y1="193.5" x2="222.2" y2="214.7" stroke="#888" stroke-width="0.75"/>
<rect x="220.80" y="202.3" width="2.8" height="4.50" fill="#dcdcb2" stroke="#a8a880" stroke-width="0.4"/>
<line x1="220.80" y1="203.2" x2="223.60" y2="203.2" stroke="#4a4a30" stroke-width="0.7"/>
<circle cx="222.2" cy="227" r="0.9" fill="#111"/>
<circle cx="222.2" cy="233.3" r="0.9" fill="#111"/>
<circle cx="222.2" cy="240.4" r="0.9" fill="#111"/>
<line x1="225.7" y1="191.7" x2="225.7" y2="224.5" stroke="#888" stroke-width="0.75"/>
<rect x="224.30" y="204.1" width="2.8" height="9.80" fill="#1a7249" stroke="#0e4a2e" stroke-width="0.4"/>
<line x1="224.30" y1="208" x2="227.10" y2="208" stroke="#0a3a22" stroke-width="0.7"/>
<circle cx="225.7" cy="234.2" r="0.9" fill="#111"/>
<line x1="229.6" y1="189" x2="229.6" y2="203.2" stroke="#888" stroke-width="0.75"/>
<rect x="228.20" y="193.5" width="2.8" height="4.40" fill="#3eaee0" stroke="#2a7aa8" stroke-width="0.4"/>
<line x1="228.20" y1="195.5" x2="231.00" y2="195.5" stroke="#15587a" stroke-width="0.7"/>
<line x1="233.2" y1="194.4" x2="233.2" y2="212" stroke="#888" stroke-width="0.75"/>
<rect x="231.80" y="199.7" width="2.8" height="4.40" fill="#7a5296" stroke="#4a2e60" stroke-width="0.4"/>
<line x1="231.80" y1="202" x2="234.60" y2="202" stroke="#3a2048" stroke-width="0.7"/>
<line x1="242.4" y1="187.3" x2="242.4" y2="200.6" stroke="#888" stroke-width="0.75"/>
<rect x="241.00" y="191.7" width="2.8" height="5.30" fill="#c40f2e" stroke="#8e0c22" stroke-width="0.4"/>
<line x1="241.00" y1="194" x2="243.80" y2="194" stroke="#6a0818" stroke-width="0.7"/>
<line x1="246.1" y1="195.3" x2="246.1" y2="205" stroke="#888" stroke-width="0.75"/>
<rect x="244.70" y="200.6" width="2.8" height="3.50" fill="#dcdcb2" stroke="#a8a880" stroke-width="0.4"/>
<line x1="244.70" y1="203.5" x2="247.50" y2="203.5" stroke="#4a4a30" stroke-width="0.7"/>
<circle cx="246.1" cy="215.1" r="0.9" fill="#111"/>
<circle cx="246.1" cy="240.4" r="0.9" fill="#111"/>
<line x1="249.6" y1="186.4" x2="249.6" y2="212.1" stroke="#888" stroke-width="0.75"/>
<rect x="248.20" y="198.8" width="2.8" height="6.20" fill="#1a7249" stroke="#0e4a2e" stroke-width="0.4"/>
<line x1="248.20" y1="201" x2="251.00" y2="201" stroke="#0a3a22" stroke-width="0.7"/>
<line x1="253.2" y1="193.5" x2="253.2" y2="205" stroke="#888" stroke-width="0.75"/>
<rect x="251.80" y="197" width="2.8" height="3.60" fill="#3eaee0" stroke="#2a7aa8" stroke-width="0.4"/>
<line x1="251.80" y1="198.5" x2="254.60" y2="198.5" stroke="#15587a" stroke-width="0.7"/>
<line x1="257.1" y1="195.3" x2="257.1" y2="205" stroke="#888" stroke-width="0.75"/>
<rect x="255.70" y="199.7" width="2.8" height="3.50" fill="#7a5296" stroke="#4a2e60" stroke-width="0.4"/>
<line x1="255.70" y1="201.5" x2="258.50" y2="201.5" stroke="#3a2048" stroke-width="0.7"/>
<line x1="266.5" y1="185.5" x2="266.5" y2="198.8" stroke="#888" stroke-width="0.75"/>
<rect x="265.10" y="190.8" width="2.8" height="4.50" fill="#c40f2e" stroke="#8e0c22" stroke-width="0.4"/>
<line x1="265.10" y1="193" x2="267.90" y2="193" stroke="#6a0818" stroke-width="0.7"/>
<circle cx="266.5" cy="200.6" r="0.9" fill="#111"/>
<circle cx="266.5" cy="202.2" r="0.9" fill="#111"/>
<circle cx="266.5" cy="203.79999999999998" r="0.9" fill="#111"/>
<circle cx="266.5" cy="205.39999999999998" r="0.9" fill="#111"/>
<circle cx="266.5" cy="206.99999999999997" r="0.9" fill="#111"/>
<line x1="270.1" y1="191.7" x2="270.1" y2="209.4" stroke="#888" stroke-width="0.75"/>
<rect x="268.70" y="197" width="2.8" height="5.30" fill="#dcdcb2" stroke="#a8a880" stroke-width="0.4"/>
<line x1="268.70" y1="199.5" x2="271.50" y2="199.5" stroke="#4a4a30" stroke-width="0.7"/>
<circle cx="270.1" cy="210.3" r="0.9" fill="#111"/>
<circle cx="270.1" cy="211.8" r="0.9" fill="#111"/>
<circle cx="270.1" cy="213.3" r="0.9" fill="#111"/>
<circle cx="270.1" cy="214.8" r="0.9" fill="#111"/>
<circle cx="270.1" cy="216.3" r="0.9" fill="#111"/>
<circle cx="270.1" cy="224.5" r="0.9" fill="#111"/>
<line x1="273.6" y1="191.7" x2="273.6" y2="227.1" stroke="#888" stroke-width="0.75"/>
<rect x="272.20" y="204.1" width="2.8" height="8.90" fill="#1a7249" stroke="#0e4a2e" stroke-width="0.4"/>
<line x1="272.20" y1="208" x2="275.00" y2="208" stroke="#0a3a22" stroke-width="0.7"/>
<circle cx="273.6" cy="228" r="0.9" fill="#111"/>
<circle cx="273.6" cy="229.4" r="0.9" fill="#111"/>
<circle cx="273.6" cy="230.8" r="0.9" fill="#111"/>
<circle cx="273.6" cy="232.20000000000002" r="0.9" fill="#111"/>
<circle cx="273.6" cy="233.60000000000002" r="0.9" fill="#111"/>
<circle cx="273.6" cy="235.00000000000003" r="0.9" fill="#111"/>
<circle cx="273.6" cy="236.40000000000003" r="0.9" fill="#111"/>
<circle cx="273.6" cy="237.80000000000004" r="0.9" fill="#111"/>
<line x1="277.1" y1="188.2" x2="277.1" y2="205" stroke="#888" stroke-width="0.75"/>
<rect x="275.70" y="196.1" width="2.8" height="3.60" fill="#3eaee0" stroke="#2a7aa8" stroke-width="0.4"/>
<line x1="275.70" y1="198" x2="278.50" y2="198" stroke="#15587a" stroke-width="0.7"/>
<circle cx="277.1" cy="205.9" r="0.9" fill="#111"/>
<circle cx="277.1" cy="207.4" r="0.9" fill="#111"/>
<circle cx="277.1" cy="208.9" r="0.9" fill="#111"/>
<circle cx="277.1" cy="210.4" r="0.9" fill="#111"/>
<circle cx="277.1" cy="211.9" r="0.9" fill="#111"/>
<circle cx="277.1" cy="189.6" r="0.9" fill="#111"/>
<line x1="281" y1="191.7" x2="281" y2="209.4" stroke="#888" stroke-width="0.75"/>
<rect x="279.60" y="197.9" width="2.8" height="4.10" fill="#7a5296" stroke="#4a2e60" stroke-width="0.4"/>
<line x1="279.60" y1="200" x2="282.40" y2="200" stroke="#3a2048" stroke-width="0.7"/>
<circle cx="281" cy="210.3" r="0.9" fill="#111"/>
<circle cx="281" cy="211.8" r="0.9" fill="#111"/>
<circle cx="281" cy="213.3" r="0.9" fill="#111"/>
<circle cx="281" cy="214.8" r="0.9" fill="#111"/>
<circle cx="281" cy="216.3" r="0.9" fill="#111"/>
<line x1="290.1" y1="186.4" x2="290.1" y2="197" stroke="#888" stroke-width="0.75"/>
<rect x="288.70" y="190.8" width="2.8" height="3.60" fill="#c40f2e" stroke="#8e0c22" stroke-width="0.4"/>
<line x1="288.70" y1="192.5" x2="291.50" y2="192.5" stroke="#6a0818" stroke-width="0.7"/>
<line x1="293.6" y1="193.5" x2="293.6" y2="211.2" stroke="#888" stroke-width="0.75"/>
<rect x="292.20" y="199.7" width="2.8" height="2.60" fill="#dcdcb2" stroke="#a8a880" stroke-width="0.4"/>
<line x1="292.20" y1="200.5" x2="295.00" y2="200.5" stroke="#4a4a30" stroke-width="0.7"/>
<circle cx="293.6" cy="236.3" r="0.9" fill="#111"/>
<line x1="297.2" y1="190.8" x2="297.2" y2="217.4" stroke="#888" stroke-width="0.75"/>
<rect x="295.80" y="197" width="2.8" height="8.50" fill="#1a7249" stroke="#0e4a2e" stroke-width="0.4"/>
<line x1="295.80" y1="200.5" x2="298.60" y2="200.5" stroke="#0a3a22" stroke-width="0.7"/>
<line x1="300.7" y1="190.8" x2="300.7" y2="204.1" stroke="#888" stroke-width="0.75"/>
<rect x="299.30" y="194.9" width="2.8" height="3.90" fill="#3eaee0" stroke="#2a7aa8" stroke-width="0.4"/>
<line x1="299.30" y1="197" x2="302.10" y2="197" stroke="#15587a" stroke-width="0.7"/>
<circle cx="300.7" cy="206.2" r="0.9" fill="#111"/>
<line x1="304.6" y1="194.4" x2="304.6" y2="208.5" stroke="#888" stroke-width="0.75"/>
<rect x="303.20" y="200.6" width="2.8" height="3.50" fill="#7a5296" stroke="#4a2e60" stroke-width="0.4"/>
<line x1="303.20" y1="202" x2="306.00" y2="202" stroke="#3a2048" stroke-width="0.7"/>
<line x1="42.4" y1="192.6" x2="45.4" y2="192.6" stroke="#111" stroke-width="0.8"/>
<text x="38.8" y="194.80" font-size="6.5" text-anchor="end" font-family="Liberation Sans, sans-serif" fill="#333" stroke="#333" stroke-width="0.12">1e+3</text>
<line x1="42.4" y1="214.6" x2="45.4" y2="214.6" stroke="#111" stroke-width="0.8"/>
<text x="38.8" y="216.80" font-size="6.5" text-anchor="end" font-family="Liberation Sans, sans-serif" fill="#333" stroke="#333" stroke-width="0.12">1e+01</text>
<line x1="42.4" y1="236.6" x2="45.4" y2="236.6" stroke="#111" stroke-width="0.8"/>
<text x="38.8" y="238.80" font-size="6.5" text-anchor="end" font-family="Liberation Sans, sans-serif" fill="#333" stroke="#333" stroke-width="0.12">1e−01</text>
<line x1="60" y1="256.4" x2="60" y2="258.7" stroke="#111" stroke-width="0.7"/>
<text x="0" y="0" transform="translate(62.90,267.40) rotate(-45)" font-size="6.5" text-anchor="end" font-family="Liberation Sans, sans-serif" fill="#333" stroke="#333" stroke-width="0.12">BCL2/MYC</text>
<line x1="83.2" y1="256.4" x2="83.2" y2="258.7" stroke="#111" stroke-width="0.7"/>
<text x="0" y="0" transform="translate(86.10,267.40) rotate(-45)" font-size="6.5" text-anchor="end" font-family="Liberation Sans, sans-serif" fill="#333" stroke="#333" stroke-width="0.12">BCR::ABL<tspan font-size="5.4">-like</tspan></text>
<line x1="107.2" y1="256.4" x2="107.2" y2="258.7" stroke="#111" stroke-width="0.7"/>
<text x="0" y="0" transform="translate(110.10,267.40) rotate(-45)" font-size="6.5" text-anchor="end" font-family="Liberation Sans, sans-serif" fill="#333" stroke="#333" stroke-width="0.12">BCR::ABL<tspan font-size="5.4">-positive</tspan></text>
<line x1="130.8" y1="256.4" x2="130.8" y2="258.7" stroke="#111" stroke-width="0.7"/>
<text x="0" y="0" transform="translate(133.70,267.40) rotate(-45)" font-size="6.5" text-anchor="end" font-family="Liberation Sans, sans-serif" fill="#333" stroke="#333" stroke-width="0.12">CDX2/UBTF</text>
<line x1="154.6" y1="256.4" x2="154.6" y2="258.7" stroke="#111" stroke-width="0.7"/>
<text x="0" y="0" transform="translate(157.50,267.40) rotate(-45)" font-size="6.5" text-anchor="end" font-family="Liberation Sans, sans-serif" fill="#333" stroke="#333" stroke-width="0.12">CEBP</text>
<line x1="178.1" y1="256.4" x2="178.1" y2="258.7" stroke="#111" stroke-width="0.7"/>
<text x="0" y="0" transform="translate(181.00,267.40) rotate(-45)" font-size="6.5" text-anchor="end" font-family="Liberation Sans, sans-serif" fill="#333" stroke="#333" stroke-width="0.12">DUX4</text>
<line x1="204.3" y1="256.4" x2="204.3" y2="258.7" stroke="#111" stroke-width="0.7"/>
<text x="0" y="0" transform="translate(207.20,267.40) rotate(-45)" font-size="6.5" text-anchor="end" font-family="Liberation Sans, sans-serif" fill="#333" stroke="#333" stroke-width="0.12">ETV6::RUNX1</text>
<line x1="225.7" y1="256.4" x2="225.7" y2="258.7" stroke="#111" stroke-width="0.7"/>
<text x="0" y="0" transform="translate(228.60,267.40) rotate(-45)" font-size="6.5" text-anchor="end" font-family="Liberation Sans, sans-serif" fill="#333" stroke="#333" stroke-width="0.12">ETV6::RUNX1<tspan font-size="5.4">-like</tspan></text>
<line x1="249.6" y1="256.4" x2="249.6" y2="258.7" stroke="#111" stroke-width="0.7"/>
<text x="0" y="0" transform="translate(252.50,267.40) rotate(-45)" font-size="6.5" text-anchor="end" font-family="Liberation Sans, sans-serif" fill="#333" stroke="#333" stroke-width="0.12">HLF</text>
<line x1="273.6" y1="256.4" x2="273.6" y2="258.7" stroke="#111" stroke-width="0.7"/>
<text x="0" y="0" transform="translate(276.50,267.40) rotate(-45)" font-size="6.5" text-anchor="end" font-family="Liberation Sans, sans-serif" fill="#333" stroke="#333" stroke-width="0.12">Hypodiploid</text>
<line x1="297.2" y1="256.4" x2="297.2" y2="258.7" stroke="#111" stroke-width="0.7"/>
<text x="0" y="0" transform="translate(300.10,267.40) rotate(-45)" font-size="6.5" text-anchor="end" font-family="Liberation Sans, sans-serif" fill="#333" stroke="#333" stroke-width="0.12">iAMP21</text>
<text x="0" y="0" transform="translate(13.6,216.9) rotate(-90)" font-size="7.2" text-anchor="middle" font-family="Liberation Sans, sans-serif" fill="#222" textLength="30.8" lengthAdjust="spacingAndGlyphs" stroke="#222" stroke-width="0.12">cpm(log10)</text>
<line x1="71.9" y1="325.8" x2="71.9" y2="405.45" stroke="#a2a2a2" stroke-width="1.4"/>
<line x1="95.80000000000001" y1="325.8" x2="95.80000000000001" y2="405.45" stroke="#a2a2a2" stroke-width="1.4"/>
<line x1="119.5" y1="325.8" x2="119.5" y2="405.45" stroke="#a2a2a2" stroke-width="1.4"/>
<line x1="143.1" y1="325.8" x2="143.1" y2="405.45" stroke="#a2a2a2" stroke-width="1.4"/>
<line x1="167.0" y1="325.8" x2="167.0" y2="405.45" stroke="#a2a2a2" stroke-width="1.4"/>
<line x1="190.5" y1="325.8" x2="190.5" y2="405.45" stroke="#a2a2a2" stroke-width="1.4"/>
<line x1="215.0" y1="325.8" x2="215.0" y2="405.45" stroke="#a2a2a2" stroke-width="1.4"/>
<line x1="238.9" y1="325.8" x2="238.9" y2="405.45" stroke="#a2a2a2" stroke-width="1.4"/>
<line x1="262.09999999999997" y1="325.8" x2="262.09999999999997" y2="405.45" stroke="#a2a2a2" stroke-width="1.4"/>
<line x1="285.9" y1="325.8" x2="285.9" y2="405.45" stroke="#a2a2a2" stroke-width="1.4"/>
<line x1="309.4" y1="325.8" x2="309.4" y2="405.45" stroke="#a2a2a2" stroke-width="1.4"/>
<line x1="45.6" y1="325.8" x2="45.6" y2="405.84999999999997" stroke="#111" stroke-width="0.9"/>
<line x1="45.2" y1="405.45" x2="309.3" y2="405.45" stroke="#111" stroke-width="0.9"/>
<line x1="52.5" y1="334.4" x2="52.5" y2="340.6" stroke="#888" stroke-width="0.75"/>
<rect x="51.10" y="335.8" width="2.8" height="2.50" fill="#c40f2e" stroke="#8e0c22" stroke-width="0.4"/>
<line x1="51.10" y1="337" x2="53.90" y2="337" stroke="#6a0818" stroke-width="0.7"/>
<line x1="56" y1="345" x2="56" y2="354.8" stroke="#888" stroke-width="0.75"/>
<rect x="54.60" y="347.7" width="2.8" height="2.60" fill="#dcdcb2" stroke="#a8a880" stroke-width="0.4"/>
<line x1="54.60" y1="349" x2="57.40" y2="349" stroke="#4a4a30" stroke-width="0.7"/>
<circle cx="56" cy="357.4" r="0.9" fill="#111"/>
<line x1="59.6" y1="338" x2="59.6" y2="345.9" stroke="#888" stroke-width="0.75"/>
<rect x="58.20" y="340.6" width="2.8" height="2.30" fill="#1a7249" stroke="#0e4a2e" stroke-width="0.4"/>
<line x1="58.20" y1="341.8" x2="61.00" y2="341.8" stroke="#0a3a22" stroke-width="0.7"/>
<line x1="63.5" y1="342.4" x2="63.5" y2="351.2" stroke="#888" stroke-width="0.75"/>
<rect x="62.10" y="344.7" width="2.8" height="2.10" fill="#3eaee0" stroke="#2a7aa8" stroke-width="0.4"/>
<line x1="62.10" y1="345.7" x2="64.90" y2="345.7" stroke="#15587a" stroke-width="0.7"/>
<line x1="67" y1="342.4" x2="67" y2="348.6" stroke="#888" stroke-width="0.75"/>
<rect x="65.60" y="344.1" width="2.8" height="2.70" fill="#7a5296" stroke="#4a2e60" stroke-width="0.4"/>
<line x1="65.60" y1="345.5" x2="68.40" y2="345.5" stroke="#3a2048" stroke-width="0.7"/>
<line x1="75.9" y1="331.7" x2="75.9" y2="345.9" stroke="#888" stroke-width="0.75"/>
<rect x="74.50" y="338.8" width="2.8" height="3.60" fill="#c40f2e" stroke="#8e0c22" stroke-width="0.4"/>
<line x1="74.50" y1="340.5" x2="77.30" y2="340.5" stroke="#6a0818" stroke-width="0.7"/>
<circle cx="75.9" cy="329.1" r="0.9" fill="#111"/>
<circle cx="75.9" cy="330.5" r="0.9" fill="#111"/>
<circle cx="75.9" cy="348.6" r="0.9" fill="#111"/>
<circle cx="75.9" cy="350.0" r="0.9" fill="#111"/>
<circle cx="75.9" cy="351.4" r="0.9" fill="#111"/>
<circle cx="75.9" cy="352.79999999999995" r="0.9" fill="#111"/>
<line x1="79.4" y1="343.3" x2="79.4" y2="367.2" stroke="#888" stroke-width="0.75"/>
<rect x="78.00" y="351.2" width="2.8" height="6.20" fill="#dcdcb2" stroke="#a8a880" stroke-width="0.4"/>
<line x1="78.00" y1="352" x2="80.80" y2="352" stroke="#4a4a30" stroke-width="0.7"/>
<circle cx="79.4" cy="367.2" r="0.9" fill="#111"/>
<circle cx="79.4" cy="368.5" r="0.9" fill="#111"/>
<circle cx="79.4" cy="369.8" r="0.9" fill="#111"/>
<circle cx="79.4" cy="384" r="0.9" fill="#111"/>
<circle cx="79.4" cy="386.7" r="0.9" fill="#111"/>
<circle cx="79.4" cy="400.8" r="0.9" fill="#111"/>
<line x1="83.3" y1="343.3" x2="83.3" y2="380.5" stroke="#888" stroke-width="0.75"/>
<rect x="81.90" y="352.1" width="2.8" height="11.50" fill="#1a7249" stroke="#0e4a2e" stroke-width="0.4"/>
<line x1="81.90" y1="356" x2="84.70" y2="356" stroke="#0a3a22" stroke-width="0.7"/>
<circle cx="83.3" cy="383.1" r="0.9" fill="#111"/>
<line x1="86.9" y1="340.6" x2="86.9" y2="358.3" stroke="#888" stroke-width="0.75"/>
<rect x="85.50" y="345.9" width="2.8" height="3.60" fill="#3eaee0" stroke="#2a7aa8" stroke-width="0.4"/>
<line x1="85.50" y1="347.5" x2="88.30" y2="347.5" stroke="#15587a" stroke-width="0.7"/>
<circle cx="86.9" cy="359.2" r="0.9" fill="#111"/>
<line x1="90.4" y1="344.1" x2="90.4" y2="361" stroke="#888" stroke-width="0.75"/>
<rect x="89.00" y="348.6" width="2.8" height="3.50" fill="#7a5296" stroke="#4a2e60" stroke-width="0.4"/>
<line x1="89.00" y1="350.3" x2="91.80" y2="350.3" stroke="#3a2048" stroke-width="0.7"/>
<circle cx="90.4" cy="361.9" r="0.9" fill="#111"/>
<circle cx="90.4" cy="363.4" r="0.9" fill="#111"/>
<line x1="100" y1="335.3" x2="100" y2="348.6" stroke="#888" stroke-width="0.75"/>
<rect x="98.60" y="340.6" width="2.8" height="3.50" fill="#c40f2e" stroke="#8e0c22" stroke-width="0.4"/>
<line x1="98.60" y1="342.3" x2="101.40" y2="342.3" stroke="#6a0818" stroke-width="0.7"/>
<circle cx="100" cy="332.3" r="0.9" fill="#111"/>
<circle cx="100" cy="353.9" r="0.9" fill="#111"/>
<circle cx="100" cy="363.6" r="0.9" fill="#111"/>
<line x1="103.5" y1="343.3" x2="103.5" y2="362.7" stroke="#888" stroke-width="0.75"/>
<rect x="102.10" y="348.6" width="2.8" height="2.60" fill="#dcdcb2" stroke="#a8a880" stroke-width="0.4"/>
<line x1="102.10" y1="350" x2="104.90" y2="350" stroke="#4a4a30" stroke-width="0.7"/>
<circle cx="103.5" cy="364.5" r="0.9" fill="#111"/>
<line x1="107.1" y1="338" x2="107.1" y2="373.4" stroke="#888" stroke-width="0.75"/>
<rect x="105.70" y="345" width="2.8" height="11.50" fill="#1a7249" stroke="#0e4a2e" stroke-width="0.4"/>
<line x1="105.70" y1="349" x2="108.50" y2="349" stroke="#0a3a22" stroke-width="0.7"/>
<circle cx="107.1" cy="375.1" r="0.9" fill="#111"/>
<circle cx="107.1" cy="379.6" r="0.9" fill="#111"/>
<line x1="110.6" y1="339.7" x2="110.6" y2="357.4" stroke="#888" stroke-width="0.75"/>
<rect x="109.20" y="346.8" width="2.8" height="3.50" fill="#3eaee0" stroke="#2a7aa8" stroke-width="0.4"/>
<line x1="109.20" y1="348.5" x2="112.00" y2="348.5" stroke="#15587a" stroke-width="0.7"/>
<circle cx="110.6" cy="358" r="0.9" fill="#111"/>
<circle cx="110.6" cy="359.3" r="0.9" fill="#111"/>
<line x1="114.5" y1="345" x2="114.5" y2="362.7" stroke="#888" stroke-width="0.75"/>
<rect x="113.10" y="352.1" width="2.8" height="2.70" fill="#7a5296" stroke="#4a2e60" stroke-width="0.4"/>
<line x1="113.10" y1="353.5" x2="115.90" y2="353.5" stroke="#3a2048" stroke-width="0.7"/>
<circle cx="114.5" cy="364.5" r="0.9" fill="#111"/>
<circle cx="114.5" cy="366.0" r="0.9" fill="#111"/>
<circle cx="114.5" cy="367.5" r="0.9" fill="#111"/>
<circle cx="114.5" cy="369.0" r="0.9" fill="#111"/>
<line x1="123.7" y1="332.6" x2="123.7" y2="345" stroke="#888" stroke-width="0.75"/>
<rect x="122.30" y="335.8" width="2.8" height="3.90" fill="#c40f2e" stroke="#8e0c22" stroke-width="0.4"/>
<line x1="122.30" y1="337.7" x2="125.10" y2="337.7" stroke="#6a0818" stroke-width="0.7"/>
<circle cx="123.7" cy="347.7" r="0.9" fill="#111"/>
<line x1="127.3" y1="343.3" x2="127.3" y2="359.2" stroke="#888" stroke-width="0.75"/>
<rect x="125.90" y="347.7" width="2.8" height="4.40" fill="#dcdcb2" stroke="#a8a880" stroke-width="0.4"/>
<line x1="125.90" y1="348.6" x2="128.70" y2="348.6" stroke="#4a4a30" stroke-width="0.7"/>
<circle cx="127.3" cy="364.5" r="0.9" fill="#111"/>
<line x1="130.8" y1="337" x2="130.8" y2="357.4" stroke="#888" stroke-width="0.75"/>
<rect x="129.40" y="343.3" width="2.8" height="4.40" fill="#1a7249" stroke="#0e4a2e" stroke-width="0.4"/>
<line x1="129.40" y1="345.5" x2="132.20" y2="345.5" stroke="#0a3a22" stroke-width="0.7"/>
<circle cx="130.8" cy="359.6" r="0.9" fill="#111"/>
<line x1="134.4" y1="338.8" x2="134.4" y2="354.8" stroke="#888" stroke-width="0.75"/>
<rect x="133.00" y="345" width="2.8" height="3.60" fill="#3eaee0" stroke="#2a7aa8" stroke-width="0.4"/>
<line x1="133.00" y1="347" x2="135.80" y2="347" stroke="#15587a" stroke-width="0.7"/>
<circle cx="134.4" cy="331.7" r="0.9" fill="#111"/>
<circle cx="134.4" cy="357" r="0.9" fill="#111"/>
<circle cx="134.4" cy="369" r="0.9" fill="#111"/>
<line x1="138" y1="343.3" x2="138" y2="353.9" stroke="#888" stroke-width="0.75"/>
<rect x="136.60" y="347.7" width="2.8" height="2.60" fill="#7a5296" stroke="#4a2e60" stroke-width="0.4"/>
<line x1="136.60" y1="349" x2="139.40" y2="349" stroke="#3a2048" stroke-width="0.7"/>
<line x1="147.6" y1="336.2" x2="147.6" y2="347.7" stroke="#888" stroke-width="0.75"/>
<rect x="146.20" y="340.6" width="2.8" height="4.10" fill="#c40f2e" stroke="#8e0c22" stroke-width="0.4"/>
<line x1="146.20" y1="342.5" x2="149.00" y2="342.5" stroke="#6a0818" stroke-width="0.7"/>
<circle cx="147.6" cy="352.5" r="0.9" fill="#111"/>
<line x1="151.1" y1="344.1" x2="151.1" y2="354.8" stroke="#888" stroke-width="0.75"/>
<rect x="149.70" y="348.2" width="2.8" height="2.10" fill="#dcdcb2" stroke="#a8a880" stroke-width="0.4"/>
<line x1="149.70" y1="349.3" x2="152.50" y2="349.3" stroke="#4a4a30" stroke-width="0.7"/>
<circle cx="151.1" cy="356.5" r="0.9" fill="#111"/>
<circle cx="151.1" cy="385.8" r="0.9" fill="#111"/>
<line x1="154.7" y1="344.1" x2="154.7" y2="370.7" stroke="#888" stroke-width="0.75"/>
<rect x="153.30" y="347.7" width="2.8" height="13.60" fill="#1a7249" stroke="#0e4a2e" stroke-width="0.4"/>
<line x1="153.30" y1="350" x2="156.10" y2="350" stroke="#0a3a22" stroke-width="0.7"/>
<line x1="158.2" y1="343.3" x2="158.2" y2="352.1" stroke="#888" stroke-width="0.75"/>
<rect x="156.80" y="345.9" width="2.8" height="2.70" fill="#3eaee0" stroke="#2a7aa8" stroke-width="0.4"/>
<line x1="156.80" y1="347.2" x2="159.60" y2="347.2" stroke="#15587a" stroke-width="0.7"/>
<circle cx="158.2" cy="353.9" r="0.9" fill="#111"/>
<line x1="162.3" y1="345.9" x2="162.3" y2="353.9" stroke="#888" stroke-width="0.75"/>
<rect x="160.90" y="348.6" width="2.8" height="2.10" fill="#7a5296" stroke="#4a2e60" stroke-width="0.4"/>
<line x1="160.90" y1="349.7" x2="163.70" y2="349.7" stroke="#3a2048" stroke-width="0.7"/>
<circle cx="162.3" cy="355.7" r="0.9" fill="#111"/>
<circle cx="162.3" cy="357.3" r="0.9" fill="#111"/>
<circle cx="162.3" cy="358.90000000000003" r="0.9" fill="#111"/>
<line x1="171" y1="332.6" x2="171" y2="344.1" stroke="#888" stroke-width="0.75"/>
<rect x="169.60" y="336.5" width="2.8" height="4.10" fill="#c40f2e" stroke="#8e0c22" stroke-width="0.4"/>
<line x1="169.60" y1="338.5" x2="172.40" y2="338.5" stroke="#6a0818" stroke-width="0.7"/>
<line x1="174.6" y1="345.9" x2="174.6" y2="354.8" stroke="#888" stroke-width="0.75"/>
<rect x="173.20" y="348.6" width="2.8" height="2.10" fill="#dcdcb2" stroke="#a8a880" stroke-width="0.4"/>
<line x1="173.20" y1="349.6" x2="176.00" y2="349.6" stroke="#4a4a30" stroke-width="0.7"/>
<line x1="178.1" y1="339.7" x2="178.1" y2="353.9" stroke="#888" stroke-width="0.75"/>
<rect x="176.70" y="344.1" width="2.8" height="3.60" fill="#1a7249" stroke="#0e4a2e" stroke-width="0.4"/>
<line x1="176.70" y1="346" x2="179.50" y2="346" stroke="#0a3a22" stroke-width="0.7"/>
<circle cx="178.1" cy="359.2" r="0.9" fill="#111"/>
<line x1="181.7" y1="344.1" x2="181.7" y2="351.2" stroke="#888" stroke-width="0.75"/>
<rect x="180.30" y="346.4" width="2.8" height="2.50" fill="#3eaee0" stroke="#2a7aa8" stroke-width="0.4"/>
<line x1="180.30" y1="347.6" x2="183.10" y2="347.6" stroke="#15587a" stroke-width="0.7"/>
<circle cx="181.7" cy="353.5" r="0.9" fill="#111"/>
<line x1="185.2" y1="344.1" x2="185.2" y2="351.2" stroke="#888" stroke-width="0.75"/>
<rect x="183.80" y="346.8" width="2.8" height="1.80" fill="#7a5296" stroke="#4a2e60" stroke-width="0.4"/>
<line x1="183.80" y1="347.7" x2="186.60" y2="347.7" stroke="#3a2048" stroke-width="0.7"/>
<circle cx="185.2" cy="353.9" r="0.9" fill="#111"/>
<circle cx="185.2" cy="356.5" r="0.9" fill="#111"/>
<line x1="195.1" y1="337" x2="195.1" y2="351.2" stroke="#888" stroke-width="0.75"/>
<rect x="193.70" y="342.4" width="2.8" height="4.00" fill="#c40f2e" stroke="#8e0c22" stroke-width="0.4"/>
<line x1="193.70" y1="344.4" x2="196.50" y2="344.4" stroke="#6a0818" stroke-width="0.7"/>
<circle cx="195.1" cy="334" r="0.9" fill="#111"/>
<circle cx="195.1" cy="356.5" r="0.9" fill="#111"/>
<line x1="198.6" y1="344.1" x2="198.6" y2="357.4" stroke="#888" stroke-width="0.75"/>
<rect x="197.20" y="348.6" width="2.8" height="2.60" fill="#dcdcb2" stroke="#a8a880" stroke-width="0.4"/>
<line x1="197.20" y1="349.9" x2="200.00" y2="349.9" stroke="#4a4a30" stroke-width="0.7"/>
<circle cx="198.6" cy="361.3" r="0.9" fill="#111"/>
<line x1="202.2" y1="341.5" x2="202.2" y2="360.1" stroke="#888" stroke-width="0.75"/>
<rect x="200.80" y="347.7" width="2.8" height="3.50" fill="#1a7249" stroke="#0e4a2e" stroke-width="0.4"/>
<line x1="200.80" y1="349.5" x2="203.60" y2="349.5" stroke="#0a3a22" stroke-width="0.7"/>
<circle cx="202.2" cy="361" r="0.9" fill="#111"/>
<circle cx="202.2" cy="362.6" r="0.9" fill="#111"/>
<circle cx="202.2" cy="364.20000000000005" r="0.9" fill="#111"/>
<circle cx="202.2" cy="365.80000000000007" r="0.9" fill="#111"/>
<circle cx="202.2" cy="367.4000000000001" r="0.9" fill="#111"/>
<circle cx="202.2" cy="369.0000000000001" r="0.9" fill="#111"/>
<line x1="205.7" y1="342.4" x2="205.7" y2="353.9" stroke="#888" stroke-width="0.75"/>
<rect x="204.30" y="346.4" width="2.8" height="3.10" fill="#3eaee0" stroke="#2a7aa8" stroke-width="0.4"/>
<line x1="204.30" y1="348" x2="207.10" y2="348" stroke="#15587a" stroke-width="0.7"/>
<circle cx="205.7" cy="355.3" r="0.9" fill="#111"/>
<line x1="209.4" y1="340.6" x2="209.4" y2="356.5" stroke="#888" stroke-width="0.75"/>
<rect x="208.00" y="347.7" width="2.8" height="2.60" fill="#7a5296" stroke="#4a2e60" stroke-width="0.4"/>
<line x1="208.00" y1="349" x2="210.80" y2="349" stroke="#3a2048" stroke-width="0.7"/>
<circle cx="209.4" cy="357.4" r="0.9" fill="#111"/>
<line x1="219" y1="334.4" x2="219" y2="347.7" stroke="#888" stroke-width="0.75"/>
<rect x="217.60" y="339.4" width="2.8" height="3.50" fill="#c40f2e" stroke="#8e0c22" stroke-width="0.4"/>
<line x1="217.60" y1="341" x2="220.40" y2="341" stroke="#6a0818" stroke-width="0.7"/>
<circle cx="219" cy="331.2" r="0.9" fill="#111"/>
<circle cx="219" cy="362.4" r="0.9" fill="#111"/>
<line x1="222.5" y1="344.1" x2="222.5" y2="362.7" stroke="#888" stroke-width="0.75"/>
<rect x="221.10" y="348.6" width="2.8" height="3.50" fill="#dcdcb2" stroke="#a8a880" stroke-width="0.4"/>
<line x1="221.10" y1="350.3" x2="223.90" y2="350.3" stroke="#4a4a30" stroke-width="0.7"/>
<circle cx="222.5" cy="365.4" r="0.9" fill="#111"/>
<circle cx="222.5" cy="367.2" r="0.9" fill="#111"/>
<circle cx="222.5" cy="378.7" r="0.9" fill="#111"/>
<circle cx="222.5" cy="383.1" r="0.9" fill="#111"/>
<line x1="225.7" y1="339.7" x2="225.7" y2="364.5" stroke="#888" stroke-width="0.75"/>
<rect x="224.30" y="345.9" width="2.8" height="4.40" fill="#1a7249" stroke="#0e4a2e" stroke-width="0.4"/>
<line x1="224.30" y1="348" x2="227.10" y2="348" stroke="#0a3a22" stroke-width="0.7"/>
<circle cx="225.7" cy="365.9" r="0.9" fill="#111"/>
<circle cx="225.7" cy="367.5" r="0.9" fill="#111"/>
<circle cx="225.7" cy="369.1" r="0.9" fill="#111"/>
<circle cx="225.7" cy="370.70000000000005" r="0.9" fill="#111"/>
<line x1="229.3" y1="337" x2="229.3" y2="353.9" stroke="#888" stroke-width="0.75"/>
<rect x="227.90" y="344.1" width="2.8" height="3.60" fill="#3eaee0" stroke="#2a7aa8" stroke-width="0.4"/>
<line x1="227.90" y1="345.9" x2="230.70" y2="345.9" stroke="#15587a" stroke-width="0.7"/>
<circle cx="229.3" cy="334" r="0.9" fill="#111"/>
<circle cx="229.3" cy="354.8" r="0.9" fill="#111"/>
<line x1="233.2" y1="342.4" x2="233.2" y2="357.4" stroke="#888" stroke-width="0.75"/>
<rect x="231.80" y="347.7" width="2.8" height="2.60" fill="#7a5296" stroke="#4a2e60" stroke-width="0.4"/>
<line x1="231.80" y1="349" x2="234.60" y2="349" stroke="#3a2048" stroke-width="0.7"/>
<circle cx="233.2" cy="358.8" r="0.9" fill="#111"/>
<line x1="242.6" y1="330.9" x2="242.6" y2="342.4" stroke="#888" stroke-width="0.75"/>
<rect x="241.20" y="336.2" width="2.8" height="3.20" fill="#c40f2e" stroke="#8e0c22" stroke-width="0.4"/>
<line x1="241.20" y1="337.8" x2="244.00" y2="337.8" stroke="#6a0818" stroke-width="0.7"/>
<circle cx="242.6" cy="345.9" r="0.9" fill="#111"/>
<line x1="246.1" y1="342.4" x2="246.1" y2="354.8" stroke="#888" stroke-width="0.75"/>
<rect x="244.70" y="347.7" width="2.8" height="2.30" fill="#dcdcb2" stroke="#a8a880" stroke-width="0.4"/>
<line x1="244.70" y1="348.8" x2="247.50" y2="348.8" stroke="#4a4a30" stroke-width="0.7"/>
<circle cx="246.1" cy="339.7" r="0.9" fill="#111"/>
<circle cx="246.1" cy="364.5" r="0.9" fill="#111"/>
<line x1="249.6" y1="338" x2="249.6" y2="355.7" stroke="#888" stroke-width="0.75"/>
<rect x="248.20" y="344.7" width="2.8" height="3.90" fill="#1a7249" stroke="#0e4a2e" stroke-width="0.4"/>
<line x1="248.20" y1="346.6" x2="251.00" y2="346.6" stroke="#0a3a22" stroke-width="0.7"/>
<circle cx="249.6" cy="363.1" r="0.9" fill="#111"/>
<line x1="253.2" y1="338.8" x2="253.2" y2="353.9" stroke="#888" stroke-width="0.75"/>
<rect x="251.80" y="346.4" width="2.8" height="2.20" fill="#3eaee0" stroke="#2a7aa8" stroke-width="0.4"/>
<line x1="251.80" y1="347.5" x2="254.60" y2="347.5" stroke="#15587a" stroke-width="0.7"/>
<line x1="257.1" y1="341.5" x2="257.1" y2="357.4" stroke="#888" stroke-width="0.75"/>
<rect x="255.70" y="348.2" width="2.8" height="3.00" fill="#7a5296" stroke="#4a2e60" stroke-width="0.4"/>
<line x1="255.70" y1="349.7" x2="258.50" y2="349.7" stroke="#3a2048" stroke-width="0.7"/>
<circle cx="257.1" cy="341.5" r="0.9" fill="#111"/>
<line x1="266.5" y1="332.6" x2="266.5" y2="350.3" stroke="#888" stroke-width="0.75"/>
<rect x="265.10" y="339.7" width="2.8" height="5.00" fill="#c40f2e" stroke="#8e0c22" stroke-width="0.4"/>
<line x1="265.10" y1="342.2" x2="267.90" y2="342.2" stroke="#6a0818" stroke-width="0.7"/>
<circle cx="266.5" cy="330" r="0.9" fill="#111"/>
<circle cx="266.5" cy="353" r="0.9" fill="#111"/>
<circle cx="266.5" cy="354.5" r="0.9" fill="#111"/>
<circle cx="266.5" cy="356.0" r="0.9" fill="#111"/>
<circle cx="266.5" cy="357.5" r="0.9" fill="#111"/>
<circle cx="266.5" cy="359.0" r="0.9" fill="#111"/>
<circle cx="266.5" cy="360.5" r="0.9" fill="#111"/>
<circle cx="266.5" cy="362.0" r="0.9" fill="#111"/>
<circle cx="266.5" cy="363.5" r="0.9" fill="#111"/>
<circle cx="266.5" cy="365.0" r="0.9" fill="#111"/>
<circle cx="266.5" cy="388.4" r="0.9" fill="#111"/>
<circle cx="266.5" cy="395.5" r="0.9" fill="#111"/>
<line x1="270.1" y1="340.6" x2="270.1" y2="375.1" stroke="#888" stroke-width="0.75"/>
<rect x="268.70" y="348.6" width="2.8" height="7.90" fill="#dcdcb2" stroke="#a8a880" stroke-width="0.4"/>
<line x1="268.70" y1="352" x2="271.50" y2="352" stroke="#4a4a30" stroke-width="0.7"/>
<circle cx="270.1" cy="375" r="0.9" fill="#111"/>
<circle cx="270.1" cy="376.2" r="0.9" fill="#111"/>
<circle cx="270.1" cy="377.4" r="0.9" fill="#111"/>
<circle cx="270.1" cy="378.59999999999997" r="0.9" fill="#111"/>
<circle cx="270.1" cy="379.79999999999995" r="0.9" fill="#111"/>
<circle cx="270.1" cy="380.99999999999994" r="0.9" fill="#111"/>
<circle cx="270.1" cy="382.19999999999993" r="0.9" fill="#111"/>
<circle cx="270.1" cy="383.3999999999999" r="0.9" fill="#111"/>
<circle cx="270.1" cy="384.5999999999999" r="0.9" fill="#111"/>
<circle cx="270.1" cy="385.7999999999999" r="0.9" fill="#111"/>
<circle cx="270.1" cy="386.9999999999999" r="0.9" fill="#111"/>
<circle cx="270.1" cy="388.1999999999999" r="0.9" fill="#111"/>
<circle cx="270.1" cy="389.39999999999986" r="0.9" fill="#111"/>
<circle cx="270.1" cy="390.59999999999985" r="0.9" fill="#111"/>
<circle cx="270.1" cy="391.79999999999984" r="0.9" fill="#111"/>
<circle cx="270.1" cy="400.8" r="0.9" fill="#111"/>
<line x1="273.2" y1="339.7" x2="273.2" y2="373.4" stroke="#888" stroke-width="0.75"/>
<rect x="271.80" y="349.5" width="2.8" height="10.60" fill="#1a7249" stroke="#0e4a2e" stroke-width="0.4"/>
<line x1="271.80" y1="354" x2="274.60" y2="354" stroke="#0a3a22" stroke-width="0.7"/>
<circle cx="273.2" cy="375" r="0.9" fill="#111"/>
<circle cx="273.2" cy="376.25" r="0.9" fill="#111"/>
<circle cx="273.2" cy="377.5" r="0.9" fill="#111"/>
<circle cx="273.2" cy="378.75" r="0.9" fill="#111"/>
<circle cx="273.2" cy="380.0" r="0.9" fill="#111"/>
<circle cx="273.2" cy="381.25" r="0.9" fill="#111"/>
<circle cx="273.2" cy="382.5" r="0.9" fill="#111"/>
<circle cx="273.2" cy="383.75" r="0.9" fill="#111"/>
<circle cx="273.2" cy="385.0" r="0.9" fill="#111"/>
<circle cx="273.2" cy="386.25" r="0.9" fill="#111"/>
<circle cx="273.2" cy="387.5" r="0.9" fill="#111"/>
<circle cx="273.2" cy="400.8" r="0.9" fill="#111"/>
<line x1="276.8" y1="338.8" x2="276.8" y2="356.5" stroke="#888" stroke-width="0.75"/>
<rect x="275.40" y="345.9" width="2.8" height="3.60" fill="#3eaee0" stroke="#2a7aa8" stroke-width="0.4"/>
<line x1="275.40" y1="347.7" x2="278.20" y2="347.7" stroke="#15587a" stroke-width="0.7"/>
<circle cx="276.8" cy="357.4" r="0.9" fill="#111"/>
<circle cx="276.8" cy="358.79999999999995" r="0.9" fill="#111"/>
<circle cx="276.8" cy="360.19999999999993" r="0.9" fill="#111"/>
<circle cx="276.8" cy="361.5999999999999" r="0.9" fill="#111"/>
<circle cx="276.8" cy="362.9999999999999" r="0.9" fill="#111"/>
<circle cx="276.8" cy="364.39999999999986" r="0.9" fill="#111"/>
<circle cx="276.8" cy="365.79999999999984" r="0.9" fill="#111"/>
<circle cx="276.8" cy="367.1999999999998" r="0.9" fill="#111"/>
<circle cx="276.8" cy="368.5999999999998" r="0.9" fill="#111"/>
<circle cx="276.8" cy="369.9999999999998" r="0.9" fill="#111"/>
<circle cx="276.8" cy="371.39999999999975" r="0.9" fill="#111"/>
<circle cx="276.8" cy="372.7999999999997" r="0.9" fill="#111"/>
<circle cx="276.8" cy="387.5" r="0.9" fill="#111"/>
<line x1="280.7" y1="342.4" x2="280.7" y2="359.2" stroke="#888" stroke-width="0.75"/>
<rect x="279.30" y="348.2" width="2.8" height="3.90" fill="#7a5296" stroke="#4a2e60" stroke-width="0.4"/>
<line x1="279.30" y1="350" x2="282.10" y2="350" stroke="#3a2048" stroke-width="0.7"/>
<circle cx="280.7" cy="360" r="0.9" fill="#111"/>
<circle cx="280.7" cy="361.5" r="0.9" fill="#111"/>
<circle cx="280.7" cy="363.0" r="0.9" fill="#111"/>
<circle cx="280.7" cy="364.5" r="0.9" fill="#111"/>
<circle cx="280.7" cy="366.0" r="0.9" fill="#111"/>
<circle cx="280.7" cy="386.6" r="0.9" fill="#111"/>
<line x1="289.9" y1="342.4" x2="289.9" y2="351.2" stroke="#888" stroke-width="0.75"/>
<rect x="288.50" y="345" width="2.8" height="3.20" fill="#c40f2e" stroke="#8e0c22" stroke-width="0.4"/>
<line x1="288.50" y1="346.6" x2="291.30" y2="346.6" stroke="#6a0818" stroke-width="0.7"/>
<circle cx="289.9" cy="334.4" r="0.9" fill="#111"/>
<circle cx="289.9" cy="339.7" r="0.9" fill="#111"/>
<circle cx="289.9" cy="351.2" r="0.9" fill="#111"/>
<circle cx="289.9" cy="352.7" r="0.9" fill="#111"/>
<circle cx="289.9" cy="354.2" r="0.9" fill="#111"/>
<circle cx="289.9" cy="355.7" r="0.9" fill="#111"/>
<line x1="293.6" y1="345.9" x2="293.6" y2="368" stroke="#888" stroke-width="0.75"/>
<rect x="292.20" y="353" width="2.8" height="6.20" fill="#dcdcb2" stroke="#a8a880" stroke-width="0.4"/>
<line x1="292.20" y1="355.5" x2="295.00" y2="355.5" stroke="#4a4a30" stroke-width="0.7"/>
<circle cx="293.6" cy="372.5" r="0.9" fill="#111"/>
<circle cx="293.6" cy="381.3" r="0.9" fill="#111"/>
<circle cx="293.6" cy="383.1" r="0.9" fill="#111"/>
<circle cx="293.6" cy="386.6" r="0.9" fill="#111"/>
<circle cx="293.6" cy="387.90000000000003" r="0.9" fill="#111"/>
<circle cx="293.6" cy="389.20000000000005" r="0.9" fill="#111"/>
<line x1="297.2" y1="341.5" x2="297.2" y2="369" stroke="#888" stroke-width="0.75"/>
<rect x="295.80" y="348.6" width="2.8" height="7.90" fill="#1a7249" stroke="#0e4a2e" stroke-width="0.4"/>
<line x1="295.80" y1="352" x2="298.60" y2="352" stroke="#0a3a22" stroke-width="0.7"/>
<circle cx="297.2" cy="378.7" r="0.9" fill="#111"/>
<circle cx="297.2" cy="389" r="0.9" fill="#111"/>
<line x1="300.7" y1="339.7" x2="300.7" y2="353.9" stroke="#888" stroke-width="0.75"/>
<rect x="299.30" y="346.8" width="2.8" height="3.20" fill="#3eaee0" stroke="#2a7aa8" stroke-width="0.4"/>
<line x1="299.30" y1="348.4" x2="302.10" y2="348.4" stroke="#15587a" stroke-width="0.7"/>
<circle cx="300.7" cy="363.6" r="0.9" fill="#111"/>
<line x1="304.7" y1="344.1" x2="304.7" y2="358.3" stroke="#888" stroke-width="0.75"/>
<rect x="303.30" y="348.6" width="2.8" height="3.50" fill="#7a5296" stroke="#4a2e60" stroke-width="0.4"/>
<line x1="303.30" y1="350.3" x2="306.10" y2="350.3" stroke="#3a2048" stroke-width="0.7"/>
<circle cx="304.7" cy="369" r="0.9" fill="#111"/>
<line x1="42.6" y1="341.4" x2="45.6" y2="341.4" stroke="#111" stroke-width="0.8"/>
<text x="39.0" y="343.60" font-size="6.5" text-anchor="end" font-family="Liberation Sans, sans-serif" fill="#333" stroke="#333" stroke-width="0.12">1e+3</text>
<line x1="42.6" y1="363.6" x2="45.6" y2="363.6" stroke="#111" stroke-width="0.8"/>
<text x="39.0" y="365.80" font-size="6.5" text-anchor="end" font-family="Liberation Sans, sans-serif" fill="#333" stroke="#333" stroke-width="0.12">1e+01</text>
<line x1="42.6" y1="385.9" x2="45.6" y2="385.9" stroke="#111" stroke-width="0.8"/>
<text x="39.0" y="388.10" font-size="6.5" text-anchor="end" font-family="Liberation Sans, sans-serif" fill="#333" stroke="#333" stroke-width="0.12">1e−01</text>
<line x1="59.6" y1="405.45" x2="59.6" y2="407.75" stroke="#111" stroke-width="0.7"/>
<text x="0" y="0" transform="translate(62.50,416.40) rotate(-45)" font-size="6.5" text-anchor="end" font-family="Liberation Sans, sans-serif" fill="#333" stroke="#333" stroke-width="0.12">IKZF N159Y</text>
<line x1="83.3" y1="405.45" x2="83.3" y2="407.75" stroke="#111" stroke-width="0.7"/>
<text x="0" y="0" transform="translate(86.20,416.40) rotate(-45)" font-size="6.5" text-anchor="end" font-family="Liberation Sans, sans-serif" fill="#333" stroke="#333" stroke-width="0.12">KMT2A</text>
<line x1="107.1" y1="405.45" x2="107.1" y2="407.75" stroke="#111" stroke-width="0.7"/>
<text x="0" y="0" transform="translate(110.00,416.40) rotate(-45)" font-size="6.5" text-anchor="end" font-family="Liberation Sans, sans-serif" fill="#333" stroke="#333" stroke-width="0.12">Low Hypodiploid</text>
<line x1="130.8" y1="405.45" x2="130.8" y2="407.75" stroke="#111" stroke-width="0.7"/>
<text x="0" y="0" transform="translate(133.70,416.40) rotate(-45)" font-size="6.5" text-anchor="end" font-family="Liberation Sans, sans-serif" fill="#333" stroke="#333" stroke-width="0.12">MEF2D</text>
<line x1="154.7" y1="405.45" x2="154.7" y2="407.75" stroke="#111" stroke-width="0.7"/>
<text x="0" y="0" transform="translate(157.60,416.40) rotate(-45)" font-size="6.5" text-anchor="end" font-family="Liberation Sans, sans-serif" fill="#333" stroke="#333" stroke-width="0.12">Near Haploid</text>
<line x1="178.1" y1="405.45" x2="178.1" y2="407.75" stroke="#111" stroke-width="0.7"/>
<text x="0" y="0" transform="translate(181.00,416.40) rotate(-45)" font-size="6.5" text-anchor="end" font-family="Liberation Sans, sans-serif" fill="#333" stroke="#333" stroke-width="0.12">NUTM1</text>
<line x1="202.2" y1="405.45" x2="202.2" y2="407.75" stroke="#111" stroke-width="0.7"/>
<text x="0" y="0" transform="translate(205.10,416.40) rotate(-45)" font-size="6.5" text-anchor="end" font-family="Liberation Sans, sans-serif" fill="#333" stroke="#333" stroke-width="0.12">PAX5 P80R</text>
<line x1="225.7" y1="405.45" x2="225.7" y2="407.75" stroke="#111" stroke-width="0.7"/>
<text x="0" y="0" transform="translate(228.60,416.40) rotate(-45)" font-size="6.5" text-anchor="end" font-family="Liberation Sans, sans-serif" fill="#333" stroke="#333" stroke-width="0.12">PAX5alt</text>
<line x1="249.6" y1="405.45" x2="249.6" y2="407.75" stroke="#111" stroke-width="0.7"/>
<text x="0" y="0" transform="translate(252.50,416.40) rotate(-45)" font-size="6.5" text-anchor="end" font-family="Liberation Sans, sans-serif" fill="#333" stroke="#333" stroke-width="0.12">TCF3::PBX1</text>
<line x1="273.2" y1="405.45" x2="273.2" y2="407.75" stroke="#111" stroke-width="0.7"/>
<text x="0" y="0" transform="translate(276.10,416.40) rotate(-45)" font-size="6.5" text-anchor="end" font-family="Liberation Sans, sans-serif" fill="#333" stroke="#333" stroke-width="0.12">Unassigned/B-other</text>
<line x1="297.2" y1="405.45" x2="297.2" y2="407.75" stroke="#111" stroke-width="0.7"/>
<text x="0" y="0" transform="translate(300.10,416.40) rotate(-45)" font-size="6.5" text-anchor="end" font-family="Liberation Sans, sans-serif" fill="#333" stroke="#333" stroke-width="0.12">ZNF384</text>
<text x="0" y="0" transform="translate(13.6,365.8) rotate(-90)" font-size="7.2" text-anchor="middle" font-family="Liberation Sans, sans-serif" fill="#222" textLength="30.8" lengthAdjust="spacingAndGlyphs" stroke="#222" stroke-width="0.12">cpm(log10)</text>
<line x1="83.3" y1="312" x2="83.3" y2="318.4" stroke="#c40f2e" stroke-width="0.7"/>
<rect x="80.5" y="313.6" width="5.6" height="3.4" fill="#c40f2e"/>
<line x1="80.5" y1="315.3" x2="86.1" y2="315.3" stroke="#6a0818" stroke-width="0.6"/>
<text x="89.4" y="317.4" font-size="6.4" font-family="Liberation Sans, sans-serif" fill="#333" stroke="#333" stroke-width="0.12">IGHM</text>
<line x1="115.5" y1="312" x2="115.5" y2="318.4" stroke="#dcdcb2" stroke-width="0.7"/>
<rect x="112.7" y="313.6" width="5.6" height="3.4" fill="#dcdcb2"/>
<line x1="112.7" y1="315.3" x2="118.3" y2="315.3" stroke="#4a4a30" stroke-width="0.6"/>
<text x="121.3" y="317.4" font-size="6.4" font-family="Liberation Sans, sans-serif" fill="#333" stroke="#333" stroke-width="0.12">VPREB1</text>
<line x1="156.8" y1="312" x2="156.8" y2="318.4" stroke="#1a7249" stroke-width="0.7"/>
<rect x="154.0" y="313.6" width="5.6" height="3.4" fill="#1a7249"/>
<line x1="154.0" y1="315.3" x2="159.60000000000002" y2="315.3" stroke="#0a3a22" stroke-width="0.6"/>
<text x="162.4" y="317.4" font-size="6.4" font-family="Liberation Sans, sans-serif" fill="#333" stroke="#333" stroke-width="0.12">IGLL1</text>
<line x1="189.2" y1="312" x2="189.2" y2="318.4" stroke="#3eaee0" stroke-width="0.7"/>
<rect x="186.39999999999998" y="313.6" width="5.6" height="3.4" fill="#3eaee0"/>
<line x1="186.39999999999998" y1="315.3" x2="192.0" y2="315.3" stroke="#15587a" stroke-width="0.6"/>
<text x="194.5" y="317.4" font-size="6.4" font-family="Liberation Sans, sans-serif" fill="#333" stroke="#333" stroke-width="0.12">CD79A</text>
<line x1="226.5" y1="312" x2="226.5" y2="318.4" stroke="#7a5296" stroke-width="0.7"/>
<rect x="223.7" y="313.6" width="5.6" height="3.4" fill="#7a5296"/>
<line x1="223.7" y1="315.3" x2="229.3" y2="315.3" stroke="#3a2048" stroke-width="0.6"/>
<text x="232" y="317.4" font-size="6.4" font-family="Liberation Sans, sans-serif" fill="#333" stroke="#333" stroke-width="0.12">CD79B</text>
<text x="230.2" y="15.3" font-size="12.2" font-weight="bold" font-family="Liberation Sans, sans-serif" fill="#111" stroke="#111" stroke-width="0.3">C</text>
<path d="M270.3,113.1 L271.3,111.2 L272.2,109.6 L273.2,107.8 L274.2,106.1 L275.1,104.8 L276.1,103.2 L277.1,101.1 L278.0,99.9 L279.0,98.4 L280.0,96.4 L280.9,95.3 L281.9,93.6 L282.9,92.4 L283.9,90.9 L284.8,89.8 L285.8,88.2 L286.8,86.7 L287.7,85.6 L288.7,84.2 L289.7,83.0 L290.6,82.2 L291.6,80.6 L292.6,79.5 L293.5,78.5 L294.5,77.5 L295.5,75.9 L296.4,75.0 L297.4,73.8 L298.4,72.7 L299.3,71.8 L300.3,70.6 L301.3,70.0 L302.2,68.8 L303.2,68.0 L304.2,66.8 L305.1,65.9 L306.1,65.5 L307.1,64.6 L308.1,63.7 L309.0,62.5 L310.0,61.9 L311.0,61.0 L311.9,60.5 L312.9,59.6 L313.9,58.9 L314.8,58.2 L315.8,57.4 L316.8,56.7 L317.7,55.8 L318.7,55.3 L319.7,54.5 L320.6,53.9 L321.6,53.2 L322.6,52.8 L323.5,52.5 L324.5,51.5 L325.5,50.9 L326.4,50.4 L327.4,50.0 L328.4,49.4 L329.3,49.2 L330.3,48.4 L331.3,48.0 L332.3,47.7 L333.2,47.4 L334.2,46.5 L335.2,46.0 L336.1,46.1 L337.1,45.2 L338.1,45.1 L339.0,44.8 L340.0,44.3 L341.0,43.7 L341.9,43.3 L342.9,43.4 L343.9,42.7 L344.8,42.7 L345.8,42.0 L346.8,41.9 L347.7,41.2 L348.7,40.9 L349.7,40.8 L350.6,40.2 L351.6,40.4 L352.6,40.2 L353.5,39.6 L354.5,39.7 L355.5,39.3 L356.5,38.9 L357.4,38.5" fill="none" stroke="#efb4c6" stroke-width="2.2" stroke-linejoin="round"/>
<path d="M270.3,113.5 L271.3,111.7 L272.2,110.0 L273.2,108.3 L274.2,106.6 L275.1,105.0 L276.1,103.4 L277.1,101.8 L278.0,100.2 L279.0,98.7 L280.0,97.2 L280.9,95.7 L281.9,94.3 L282.9,92.9 L283.9,91.5 L284.8,90.1 L285.8,88.8 L286.8,87.4 L287.7,86.1 L288.7,84.9 L289.7,83.6 L290.6,82.4 L291.6,81.2 L292.6,80.0 L293.5,78.8 L294.5,77.7 L295.5,76.6 L296.4,75.5 L297.4,74.4 L298.4,73.4 L299.3,72.4 L300.3,71.4 L301.3,70.4 L302.2,69.4 L303.2,68.5 L304.2,67.5 L305.1,66.6 L306.1,65.8 L307.1,64.9 L308.1,64.0 L309.0,63.2 L310.0,62.4 L311.0,61.6 L311.9,60.8 L312.9,60.1 L313.9,59.3 L314.8,58.6 L315.8,57.9 L316.8,57.2 L317.7,56.5 L318.7,55.9 L319.7,55.2 L320.6,54.6 L321.6,54.0 L322.6,53.4 L323.5,52.8 L324.5,52.2 L325.5,51.6 L326.4,51.1 L327.4,50.6 L328.4,50.0 L329.3,49.5 L330.3,49.0 L331.3,48.6 L332.3,48.1 L333.2,47.6 L334.2,47.2 L335.2,46.7 L336.1,46.3 L337.1,45.9 L338.1,45.5 L339.0,45.1 L340.0,44.7 L341.0,44.3 L341.9,44.0 L342.9,43.6 L343.9,43.3 L344.8,42.9 L345.8,42.6 L346.8,42.3 L347.7,41.9 L348.7,41.6 L349.7,41.3 L350.6,41.0 L351.6,40.7 L352.6,40.4 L353.5,40.2 L354.5,39.9 L355.5,39.6 L356.5,39.3 L357.4,39.1" fill="none" stroke="#3c2232" stroke-width="1.1"/>
<path d="M357.4,39.1 L357.9,38.3 L358.9,41.0 L359.8,41.1 L360.8,40.9 L361.8,41.1 L362.7,40.9 L363.7,41.0 L364.7,41.2 L365.6,41.1 L366.6,41.1 L367.6,41.1 L368.6,41.1 L369.5,41.1 L370.5,41.1 L371.5,41.0 L372.4,41.1 L373.4,41.1 L374.4,41.0 L375.3,41.2 L376.3,41.2 L377.3,41.0 L378.2,41.1 L379.2,41.1 L380.2,41.3 L381.1,41.2 L382.1,41.1 L383.1,41.3 L384.0,41.1 L385.0,41.1 L386.0,41.3 L386.9,41.1 L387.9,41.1 L388.9,41.1 L389.8,41.2 L390.8,41.1 L391.8,41.0 L392.8,41.3 L393.7,41.3 L394.7,41.1 L395.7,41.0 L396.6,41.2 L397.6,41.1 L398.6,41.1 L399.5,41.2 L400.5,41.2 L401.5,41.2 L402.4,41.2 L403.4,41.1 L404.4,41.2 L405.3,41.2 L406.3,41.0 L407.3,41.3 L408.2,41.1 L409.2,41.0 L410.2,41.2 L411.1,41.2 L412.1,41.0 L413.1,41.2 L414.0,41.2 L415.0,41.1 L416.0,41.1 L417.0,41.3 L417.9,41.2 L418.9,41.2 L419.9,41.0 L420.8,41.1 L421.8,41.0 L422.8,41.2 L423.7,41.2 L424.7,41.1 L425.7,41.0 L426.6,41.1 L427.6,41.2 L428.6,41.3 L429.5,41.1 L430.5,41.2 L431.5,41.0 L432.4,41.0 L433.4,41.2 L434.4,41.2 L435.3,41.0 L436.3,41.1 L437.3,41.0 L438.2,41.2 L439.2,41.3 L440.2,41.2 L441.2,41.0 L442.1,41.2 L443.1,41.2 L444.1,41.2" fill="none" stroke="#6e4e5c" stroke-width="1.9" stroke-linejoin="round"/>
<path d="M270.3,113.6 L271.3,112.0 L272.2,110.2 L273.2,109.2 L274.2,107.8 L275.1,105.9 L276.1,104.5 L277.1,103.1 L278.0,102.1 L279.0,100.5 L280.0,99.2 L280.9,98.4 L281.9,96.9 L282.9,95.7 L283.9,94.6 L284.8,93.5 L285.8,92.6 L286.8,91.5 L287.7,90.5 L288.7,89.5 L289.7,88.2 L290.6,87.4 L291.6,86.2 L292.6,85.7 L293.5,84.3 L294.5,83.5 L295.5,82.5 L296.4,81.6 L297.4,80.8 L298.4,80.2 L299.3,79.7 L300.3,78.5 L301.3,78.1 L302.2,77.3 L303.2,76.4 L304.2,75.8 L305.1,75.2 L306.1,74.2 L307.1,73.7 L308.1,73.3 L309.0,72.7 L310.0,71.8 L311.0,71.4 L311.9,70.7 L312.9,70.4 L313.9,69.9 L314.8,69.2 L315.8,68.5 L316.8,68.4 L317.7,67.5 L318.7,67.0 L319.7,66.5 L320.6,66.1 L321.6,66.1 L322.6,65.3 L323.5,64.7 L324.5,64.8 L325.5,64.2 L326.4,63.8 L327.4,63.3 L328.4,62.9 L329.3,62.5 L330.3,62.0 L331.3,62.0 L332.3,61.6 L333.2,61.2 L334.2,60.9 L335.2,60.5 L336.1,59.7 L337.1,59.4 L338.1,59.5 L339.0,58.9 L340.0,58.7 L341.0,58.3 L341.9,57.9 L342.9,57.4 L343.9,57.1 L344.8,56.9 L345.8,56.7 L346.8,56.2 L347.7,56.0 L348.7,55.4 L349.7,55.0 L350.6,54.8 L351.6,54.6 L352.6,54.2 L353.5,53.7 L354.5,53.2 L355.5,52.7 L356.5,52.6 L357.4,51.9" fill="none" stroke="#5cd2ec" stroke-width="1.8" stroke-linejoin="round"/>
<path d="M270.3,114.0 L271.3,112.4 L272.2,110.9 L273.2,109.5 L274.2,108.0 L275.1,106.6 L276.1,105.2 L277.1,103.9 L278.0,102.5 L279.0,101.2 L280.0,100.0 L280.9,98.7 L281.9,97.5 L282.9,96.3 L283.9,95.2 L284.8,94.0 L285.8,92.9 L286.8,91.9 L287.7,90.8 L288.7,89.8 L289.7,88.8 L290.6,87.8 L291.6,86.8 L292.6,85.9 L293.5,85.0 L294.5,84.1 L295.5,83.2 L296.4,82.4 L297.4,81.5 L298.4,80.7 L299.3,79.9 L300.3,79.2 L301.3,78.4 L302.2,77.7 L303.2,77.0 L304.2,76.3 L305.1,75.6 L306.1,74.9 L307.1,74.3 L308.1,73.7 L309.0,73.1 L310.0,72.5 L311.0,71.9 L311.9,71.3 L312.9,70.8 L313.9,70.2 L314.8,69.7 L315.8,69.2 L316.8,68.7 L317.7,68.2 L318.7,67.7 L319.7,67.2 L320.6,66.8 L321.6,66.3 L322.6,65.9 L323.5,65.4 L324.5,65.0 L325.5,64.6 L326.4,64.2 L327.4,63.8 L328.4,63.4 L329.3,63.0 L330.3,62.6 L331.3,62.2 L332.3,61.9 L333.2,61.5 L334.2,61.1 L335.2,60.8 L336.1,60.4 L337.1,60.1 L338.1,59.7 L339.0,59.4 L340.0,59.0 L341.0,58.7 L341.9,58.3 L342.9,58.0 L343.9,57.7 L344.8,57.3 L345.8,57.0 L346.8,56.6 L347.7,56.3 L348.7,55.9 L349.7,55.6 L350.6,55.2 L351.6,54.8 L352.6,54.5 L353.5,54.1 L354.5,53.7 L355.5,53.4 L356.5,53.0 L357.4,52.6" fill="none" stroke="#1a6a7c" stroke-width="0.9"/>
<path d="M357.4,52.6 L357.9,51.8 L358.9,52.9 L359.8,52.9 L360.8,53.0 L361.8,52.9 L362.7,52.9 L363.7,53.0 L364.7,52.9 L365.6,53.0 L366.6,53.0 L367.6,52.9 L368.6,52.9 L369.5,53.1 L370.5,53.0 L371.5,53.0 L372.4,52.8 L373.4,52.8 L374.4,53.0 L375.3,52.8 L376.3,52.9 L377.3,53.0 L378.2,53.0 L379.2,53.1 L380.2,52.8 L381.1,52.9 L382.1,52.8 L383.1,52.9 L384.0,52.9 L385.0,52.9 L386.0,52.9 L386.9,53.1 L387.9,52.9 L388.9,53.1 L389.8,53.1 L390.8,52.9 L391.8,53.1 L392.8,53.1 L393.7,53.1 L394.7,52.8 L395.7,53.1 L396.6,53.1 L397.6,52.8 L398.6,53.1 L399.5,52.8 L400.5,52.9 L401.5,52.8 L402.4,52.8 L403.4,52.9 L404.4,52.9 L405.3,53.1 L406.3,52.9 L407.3,53.0 L408.2,52.9 L409.2,53.1 L410.2,52.9 L411.1,52.8 L412.1,53.1 L413.1,53.0 L414.0,52.9 L415.0,52.8 L416.0,53.0 L417.0,53.1 L417.9,53.0 L418.9,52.9 L419.9,52.9 L420.8,53.0 L421.8,53.0 L422.8,53.0 L423.7,53.0 L424.7,53.0 L425.7,53.1 L426.6,53.0 L427.6,52.8 L428.6,53.0 L429.5,52.9 L430.5,53.1 L431.5,52.9 L432.4,52.9 L433.4,52.9 L434.4,53.0 L435.3,53.0 L436.3,52.9 L437.3,52.8 L438.2,53.1 L439.2,53.1 L440.2,52.9 L441.2,52.8 L442.1,53.0 L443.1,53.0 L444.1,52.9" fill="none" stroke="#2a8ea0" stroke-width="1.9" stroke-linejoin="round"/>
<path d="M270.3,114.0 L271.3,112.7 L272.2,111.7 L273.2,110.0 L274.2,109.3 L275.1,108.4 L276.1,106.7 L277.1,105.4 L278.0,105.3 L279.0,103.7 L280.0,103.2 L280.9,101.6 L281.9,101.1 L282.9,100.6 L283.9,99.8 L284.8,99.2 L285.8,97.8 L286.8,97.1 L287.7,96.6 L288.7,95.5 L289.7,94.8 L290.6,93.5 L291.6,93.6 L292.6,91.7 L293.5,91.7 L294.5,90.9 L295.5,90.4 L296.4,89.2 L297.4,88.6 L298.4,88.4 L299.3,87.8 L300.3,86.9 L301.3,86.2 L302.2,86.2 L303.2,85.2 L304.2,84.3 L305.1,84.5 L306.1,84.3 L307.1,83.7 L308.1,82.6 L309.0,82.1 L310.0,81.3 L311.0,80.9 L311.9,81.3 L312.9,80.9 L313.9,80.4 L314.8,80.0 L315.8,78.9 L316.8,78.3 L317.7,77.8 L318.7,78.3 L319.7,77.0 L320.6,77.4 L321.6,76.9 L322.6,76.1 L323.5,76.6 L324.5,76.2 L325.5,74.8 L326.4,75.2 L327.4,74.7 L328.4,74.1 L329.3,73.6 L330.3,74.1 L331.3,73.3 L332.3,72.8 L333.2,72.4 L334.2,72.5 L335.2,71.6 L336.1,70.7 L337.1,71.2 L338.1,70.6 L339.0,70.9 L340.0,70.3 L341.0,69.4 L341.9,69.8 L342.9,68.4 L343.9,68.0 L344.8,68.8 L345.8,67.3 L346.8,67.7 L347.7,66.8 L348.7,66.4 L349.7,66.7 L350.6,65.8 L351.6,65.5 L352.6,64.9 L353.5,65.2 L354.5,64.1 L355.5,63.5 L356.5,63.4 L357.4,63.2" fill="none" stroke="#1c1448" stroke-width="1.9" stroke-linejoin="round"/>
<path d="M270.3,114.0 L271.3,112.9 L272.2,111.7 L273.2,110.6 L274.2,109.6 L275.1,108.5 L276.1,107.5 L277.1,106.5 L278.0,105.5 L279.0,104.5 L280.0,103.5 L280.9,102.6 L281.9,101.7 L282.9,100.8 L283.9,99.9 L284.8,99.1 L285.8,98.2 L286.8,97.4 L287.7,96.6 L288.7,95.8 L289.7,95.1 L290.6,94.3 L291.6,93.6 L292.6,92.9 L293.5,92.2 L294.5,91.5 L295.5,90.8 L296.4,90.2 L297.4,89.5 L298.4,88.9 L299.3,88.3 L300.3,87.7 L301.3,87.1 L302.2,86.5 L303.2,86.0 L304.2,85.4 L305.1,84.9 L306.1,84.4 L307.1,83.9 L308.1,83.4 L309.0,82.9 L310.0,82.4 L311.0,81.9 L311.9,81.4 L312.9,81.0 L313.9,80.5 L314.8,80.1 L315.8,79.7 L316.8,79.3 L317.7,78.8 L318.7,78.4 L319.7,78.0 L320.6,77.6 L321.6,77.2 L322.6,76.9 L323.5,76.5 L324.5,76.1 L325.5,75.7 L326.4,75.4 L327.4,75.0 L328.4,74.6 L329.3,74.3 L330.3,73.9 L331.3,73.6 L332.3,73.2 L333.2,72.9 L334.2,72.5 L335.2,72.2 L336.1,71.9 L337.1,71.5 L338.1,71.2 L339.0,70.8 L340.0,70.5 L341.0,70.1 L341.9,69.8 L342.9,69.4 L343.9,69.1 L344.8,68.7 L345.8,68.4 L346.8,68.0 L347.7,67.6 L348.7,67.3 L349.7,66.9 L350.6,66.5 L351.6,66.1 L352.6,65.8 L353.5,65.4 L354.5,65.0 L355.5,64.6 L356.5,64.2 L357.4,63.7" fill="none" stroke="#0c0a20" stroke-width="0.6"/>
<path d="M357.4,63.7 L357.9,63.0 L358.9,66.3 L359.8,66.1 L360.8,66.3 L361.8,66.1 L362.7,66.1 L363.7,66.3 L364.7,66.6 L365.6,66.2 L366.6,66.2 L367.6,66.6 L368.6,66.0 L369.5,66.2 L370.5,66.7 L371.5,66.0 L372.4,66.6 L373.4,66.5 L374.4,66.2 L375.3,66.3 L376.3,66.3 L377.3,66.2 L378.2,66.4 L379.2,66.5 L380.2,66.6 L381.1,66.7 L382.1,66.2 L383.1,66.1 L384.0,66.3 L385.0,66.1 L386.0,66.5 L386.9,66.5 L387.9,66.4 L388.9,66.0 L389.8,66.7 L390.8,66.3 L391.8,66.5 L392.8,66.1 L393.7,66.5 L394.7,66.5 L395.7,66.4 L396.6,66.3 L397.6,66.1 L398.6,66.5 L399.5,66.1 L400.5,66.7 L401.5,66.5 L402.4,66.7 L403.4,66.7 L404.4,66.1 L405.3,66.2 L406.3,66.6 L407.3,66.6 L408.2,66.4 L409.2,66.1 L410.2,66.1 L411.1,66.1 L412.1,66.3 L413.1,66.6 L414.0,66.4 L415.0,66.6 L416.0,66.3 L417.0,66.3 L417.9,66.6 L418.9,66.5 L419.9,66.1 L420.8,66.7 L421.8,66.1 L422.8,66.0 L423.7,66.0 L424.7,66.4 L425.7,66.3 L426.6,66.3 L427.6,66.2 L428.6,66.0 L429.5,66.2 L430.5,66.5 L431.5,66.1 L432.4,66.4 L433.4,66.3 L434.4,66.2 L435.3,66.7 L436.3,66.1 L437.3,66.2 L438.2,66.4 L439.2,66.3 L440.2,66.4 L441.2,66.6 L442.1,66.3 L443.1,66.7 L444.1,66.3" fill="none" stroke="#1c1448" stroke-width="1.9" stroke-linejoin="round"/>
<path d="M270.3,113.2 L271.3,112.5 L272.2,111.7 L273.2,110.7 L274.2,110.0 L275.1,109.6 L276.1,108.6 L277.1,108.0 L278.0,107.5 L279.0,106.7 L280.0,106.1 L280.9,105.5 L281.9,104.7 L282.9,103.9 L283.9,103.6 L284.8,102.7 L285.8,102.2 L286.8,101.9 L287.7,101.0 L288.7,100.6 L289.7,99.9 L290.6,99.5 L291.6,98.9 L292.6,98.6 L293.5,97.9 L294.5,97.4 L295.5,96.9 L296.4,96.7 L297.4,96.1 L298.4,95.8 L299.3,95.5 L300.3,95.1 L301.3,94.7 L302.2,94.3 L303.2,93.9 L304.2,93.3 L305.1,92.9 L306.1,92.6 L307.1,92.3 L308.1,91.8 L309.0,91.6 L310.0,91.2 L311.0,90.8 L311.9,90.6 L312.9,90.4 L313.9,89.8 L314.8,89.6 L315.8,89.4 L316.8,89.1 L317.7,88.8 L318.7,88.5 L319.7,88.4 L320.6,88.2 L321.6,87.9 L322.6,87.3 L323.5,87.4 L324.5,87.0 L325.5,86.9 L326.4,86.6 L327.4,86.4 L328.4,86.1 L329.3,85.9 L330.3,85.8 L331.3,85.5 L332.3,85.3 L333.2,84.9 L334.2,84.9 L335.2,84.7 L336.1,84.3 L337.1,84.1 L338.1,83.7 L339.0,83.8 L340.0,83.4 L341.0,83.2 L341.9,83.2 L342.9,82.5 L343.9,82.7 L344.8,82.5 L345.8,82.1 L346.8,82.1 L347.7,81.7 L348.7,81.6 L349.7,81.5 L350.6,81.3 L351.6,80.8 L352.6,80.7 L353.5,80.3 L354.5,80.2 L355.5,79.8 L356.5,79.8 L357.4,79.6" fill="none" stroke="#74c0b8" stroke-width="1.5" stroke-linejoin="round"/>
<path d="M270.3,113.8 L271.3,113.0 L272.2,112.2 L273.2,111.4 L274.2,110.7 L275.1,109.9 L276.1,109.2 L277.1,108.5 L278.0,107.8 L279.0,107.1 L280.0,106.5 L280.9,105.8 L281.9,105.2 L282.9,104.6 L283.9,104.0 L284.8,103.4 L285.8,102.8 L286.8,102.2 L287.7,101.6 L288.7,101.1 L289.7,100.6 L290.6,100.0 L291.6,99.5 L292.6,99.0 L293.5,98.5 L294.5,98.1 L295.5,97.6 L296.4,97.1 L297.4,96.7 L298.4,96.3 L299.3,95.8 L300.3,95.4 L301.3,95.0 L302.2,94.6 L303.2,94.2 L304.2,93.8 L305.1,93.5 L306.1,93.1 L307.1,92.7 L308.1,92.4 L309.0,92.0 L310.0,91.7 L311.0,91.4 L311.9,91.1 L312.9,90.7 L313.9,90.4 L314.8,90.1 L315.8,89.8 L316.8,89.6 L317.7,89.3 L318.7,89.0 L319.7,88.7 L320.6,88.5 L321.6,88.2 L322.6,87.9 L323.5,87.7 L324.5,87.4 L325.5,87.2 L326.4,87.0 L327.4,86.7 L328.4,86.5 L329.3,86.3 L330.3,86.0 L331.3,85.8 L332.3,85.6 L333.2,85.4 L334.2,85.1 L335.2,84.9 L336.1,84.7 L337.1,84.5 L338.1,84.3 L339.0,84.1 L340.0,83.9 L341.0,83.7 L341.9,83.5 L342.9,83.2 L343.9,83.0 L344.8,82.8 L345.8,82.6 L346.8,82.4 L347.7,82.2 L348.7,82.0 L349.7,81.8 L350.6,81.6 L351.6,81.3 L352.6,81.1 L353.5,80.9 L354.5,80.7 L355.5,80.5 L356.5,80.2 L357.4,80.0" fill="none" stroke="#1c5a5c" stroke-width="0.8"/>
<path d="M357.4,80.0 L357.9,79.2 L358.9,82.3 L359.8,82.3 L360.8,82.5 L361.8,82.6 L362.7,82.7 L363.7,82.6 L364.7,82.5 L365.6,82.6 L366.6,82.8 L367.6,82.8 L368.6,82.8 L369.5,82.7 L370.5,82.8 L371.5,82.8 L372.4,82.6 L373.4,82.5 L374.4,82.7 L375.3,82.5 L376.3,82.6 L377.3,82.6 L378.2,82.5 L379.2,82.5 L380.2,82.8 L381.1,82.7 L382.1,82.6 L383.1,82.5 L384.0,82.8 L385.0,82.7 L386.0,82.5 L386.9,82.7 L387.9,82.7 L388.9,82.7 L389.8,82.6 L390.8,82.5 L391.8,82.7 L392.8,82.6 L393.7,82.6 L394.7,82.5 L395.7,82.6 L396.6,82.5 L397.6,82.7 L398.6,82.7 L399.5,82.7 L400.5,82.6 L401.5,82.6 L402.4,82.7 L403.4,82.7 L404.4,82.6 L405.3,82.6 L406.3,82.6 L407.3,82.7 L408.2,82.6 L409.2,82.7 L410.2,82.6 L411.1,82.8 L412.1,82.6 L413.1,82.6 L414.0,82.6 L415.0,82.8 L416.0,82.7 L417.0,82.5 L417.9,82.6 L418.9,82.5 L419.9,82.5 L420.8,82.7 L421.8,82.5 L422.8,82.6 L423.7,82.7 L424.7,82.7 L425.7,82.8 L426.6,82.7 L427.6,82.5 L428.6,82.8 L429.5,82.6 L430.5,82.7 L431.5,82.8 L432.4,82.6 L433.4,82.7 L434.4,82.8 L435.3,82.7 L436.3,82.6 L437.3,82.6 L438.2,82.8 L439.2,82.7 L440.2,82.5 L441.2,82.7 L442.1,82.6 L443.1,82.7 L444.1,82.6" fill="none" stroke="#4aa6a6" stroke-width="1.9" stroke-linejoin="round"/>
<path d="M270.3,114.5 L271.3,114.0 L272.2,113.8 L273.2,113.6 L274.2,113.2 L275.1,112.9 L276.1,112.1 L277.1,112.2 L278.0,111.9 L279.0,111.0 L280.0,111.1 L280.9,110.3 L281.9,110.5 L282.9,109.9 L283.9,109.8 L284.8,109.1 L285.8,108.9 L286.8,108.6 L287.7,108.2 L288.7,107.9 L289.7,107.9 L290.6,107.5 L291.6,107.3 L292.6,107.2 L293.5,106.5 L294.5,106.4 L295.5,106.0 L296.4,106.1 L297.4,105.6 L298.4,105.4 L299.3,105.0 L300.3,105.2 L301.3,104.8 L302.2,104.5 L303.2,104.5 L304.2,104.0 L305.1,103.7 L306.1,103.6 L307.1,103.3 L308.1,103.1 L309.0,103.1 L310.0,102.8 L311.0,102.2 L311.9,102.4 L312.9,102.2 L313.9,102.2 L314.8,101.9 L315.8,101.7 L316.8,101.1 L317.7,101.0 L318.7,100.7 L319.7,100.5 L320.6,100.5 L321.6,100.1 L322.6,100.2 L323.5,100.1 L324.5,99.6 L325.5,99.4 L326.4,99.2 L327.4,99.3 L328.4,99.0 L329.3,99.0 L330.3,98.5 L331.3,98.4 L332.3,98.5 L333.2,98.0 L334.2,98.3 L335.2,98.1 L336.1,97.6 L337.1,97.7 L338.1,97.4 L339.0,97.1 L340.0,97.3 L341.0,96.7 L341.9,96.8 L342.9,96.5 L343.9,96.4 L344.8,96.0 L345.8,95.8 L346.8,95.9 L347.7,95.8 L348.7,95.5 L349.7,95.2 L350.6,95.2 L351.6,95.0 L352.6,94.4 L353.5,94.3 L354.5,93.9 L355.5,93.7 L356.5,93.5 L357.4,93.6" fill="none" stroke="#2c4c94" stroke-width="1.8" stroke-linejoin="round"/>
<path d="M270.3,115.1 L271.3,114.7 L272.2,114.3 L273.2,113.9 L274.2,113.5 L275.1,113.2 L276.1,112.8 L277.1,112.4 L278.0,112.1 L279.0,111.7 L280.0,111.4 L280.9,111.0 L281.9,110.7 L282.9,110.4 L283.9,110.1 L284.8,109.8 L285.8,109.5 L286.8,109.2 L287.7,108.9 L288.7,108.6 L289.7,108.3 L290.6,108.0 L291.6,107.7 L292.6,107.4 L293.5,107.2 L294.5,106.9 L295.5,106.7 L296.4,106.4 L297.4,106.1 L298.4,105.9 L299.3,105.7 L300.3,105.4 L301.3,105.2 L302.2,105.0 L303.2,104.7 L304.2,104.5 L305.1,104.3 L306.1,104.1 L307.1,103.8 L308.1,103.6 L309.0,103.4 L310.0,103.2 L311.0,103.0 L311.9,102.8 L312.9,102.6 L313.9,102.4 L314.8,102.2 L315.8,102.0 L316.8,101.8 L317.7,101.6 L318.7,101.4 L319.7,101.2 L320.6,101.1 L321.6,100.9 L322.6,100.7 L323.5,100.5 L324.5,100.3 L325.5,100.2 L326.4,100.0 L327.4,99.8 L328.4,99.6 L329.3,99.4 L330.3,99.3 L331.3,99.1 L332.3,98.9 L333.2,98.7 L334.2,98.6 L335.2,98.4 L336.1,98.2 L337.1,98.0 L338.1,97.8 L339.0,97.7 L340.0,97.5 L341.0,97.3 L341.9,97.1 L342.9,97.0 L343.9,96.8 L344.8,96.6 L345.8,96.4 L346.8,96.2 L347.7,96.0 L348.7,95.8 L349.7,95.6 L350.6,95.4 L351.6,95.3 L352.6,95.1 L353.5,94.9 L354.5,94.7 L355.5,94.5 L356.5,94.2 L357.4,94.0" fill="none" stroke="#0c1a44" stroke-width="0.7"/>
<path d="M357.4,94.0 L357.9,93.3 L358.9,95.0 L359.8,95.0 L360.8,95.0 L361.8,95.0 L362.7,95.0 L363.7,95.1 L364.7,94.9 L365.6,95.1 L366.6,95.1 L367.6,94.9 L368.6,94.9 L369.5,95.1 L370.5,95.1 L371.5,94.9 L372.4,95.2 L373.4,95.2 L374.4,95.0 L375.3,95.0 L376.3,95.2 L377.3,95.2 L378.2,95.2 L379.2,95.0 L380.2,95.1 L381.1,94.9 L382.1,95.0 L383.1,94.9 L384.0,95.2 L385.0,95.2 L386.0,95.2 L386.9,95.1 L387.9,95.1 L388.9,95.2 L389.8,95.0 L390.8,95.2 L391.8,95.1 L392.8,95.1 L393.7,95.0 L394.7,95.1 L395.7,95.1 L396.6,95.2 L397.6,95.1 L398.6,95.0 L399.5,95.0 L400.5,94.9 L401.5,94.9 L402.4,95.1 L403.4,95.2 L404.4,95.0 L405.3,95.0 L406.3,95.1 L407.3,94.9 L408.2,95.0 L409.2,95.1 L410.2,95.2 L411.1,95.2 L412.1,95.0 L413.1,94.9 L414.0,94.9 L415.0,95.1 L416.0,95.0 L417.0,94.9 L417.9,94.9 L418.9,95.0 L419.9,95.1 L420.8,95.0 L421.8,95.2 L422.8,95.2 L423.7,95.0 L424.7,94.9 L425.7,95.0 L426.6,95.1 L427.6,95.1 L428.6,95.1 L429.5,95.0 L430.5,95.1 L431.5,94.9 L432.4,95.2 L433.4,95.1 L434.4,95.0 L435.3,95.1 L436.3,94.9 L437.3,94.9 L438.2,94.9 L439.2,95.0 L440.2,95.2 L441.2,95.0 L442.1,95.0 L443.1,95.1 L444.1,95.1" fill="none" stroke="#2c4a8e" stroke-width="1.9" stroke-linejoin="round"/>
<path d="M270.3,115.8 L271.3,115.5 L272.2,115.6 L273.2,115.2 L274.2,115.1 L275.1,114.9 L276.1,114.6 L277.1,114.3 L278.0,114.3 L279.0,114.2 L280.0,113.8 L280.9,113.9 L281.9,113.6 L282.9,113.3 L283.9,113.3 L284.8,113.2 L285.8,112.8 L286.8,112.6 L287.7,112.7 L288.7,112.5 L289.7,112.4 L290.6,112.3 L291.6,112.1 L292.6,111.7 L293.5,111.9 L294.5,111.7 L295.5,111.6 L296.4,111.5 L297.4,111.2 L298.4,111.0 L299.3,110.8 L300.3,110.8 L301.3,110.6 L302.2,110.7 L303.2,110.5 L304.2,110.2 L305.1,110.3 L306.1,110.2 L307.1,110.0 L308.1,109.9 L309.0,109.7 L310.0,109.8 L311.0,109.6 L311.9,109.2 L312.9,109.4 L313.9,109.0 L314.8,109.1 L315.8,108.8 L316.8,108.8 L317.7,108.7 L318.7,108.7 L319.7,108.6 L320.6,108.3 L321.6,108.4 L322.6,108.2 L323.5,107.9 L324.5,107.8 L325.5,107.9 L326.4,107.5 L327.4,107.6 L328.4,107.5 L329.3,107.5 L330.3,107.3 L331.3,106.9 L332.3,107.0 L333.2,107.0 L334.2,106.8 L335.2,106.7 L336.1,106.5 L337.1,106.2 L338.1,106.4 L339.0,106.2 L340.0,105.8 L341.0,105.7 L341.9,105.6 L342.9,105.7 L343.9,105.5 L344.8,105.2 L345.8,105.2 L346.8,104.9 L347.7,104.9 L348.7,104.9 L349.7,104.6 L350.6,104.3 L351.6,104.2 L352.6,104.1 L353.5,103.9 L354.5,103.8 L355.5,103.6 L356.5,103.4 L357.4,103.2" fill="none" stroke="#eaa47a" stroke-width="1.4" stroke-linejoin="round"/>
<path d="M270.3,116.4 L271.3,116.1 L272.2,115.9 L273.2,115.7 L274.2,115.5 L275.1,115.3 L276.1,115.2 L277.1,115.0 L278.0,114.8 L279.0,114.6 L280.0,114.4 L280.9,114.3 L281.9,114.1 L282.9,113.9 L283.9,113.8 L284.8,113.6 L285.8,113.4 L286.8,113.3 L287.7,113.1 L288.7,113.0 L289.7,112.8 L290.6,112.7 L291.6,112.5 L292.6,112.4 L293.5,112.2 L294.5,112.1 L295.5,112.0 L296.4,111.8 L297.4,111.7 L298.4,111.6 L299.3,111.4 L300.3,111.3 L301.3,111.2 L302.2,111.1 L303.2,110.9 L304.2,110.8 L305.1,110.7 L306.1,110.6 L307.1,110.5 L308.1,110.3 L309.0,110.2 L310.0,110.1 L311.0,110.0 L311.9,109.9 L312.9,109.8 L313.9,109.6 L314.8,109.5 L315.8,109.4 L316.8,109.3 L317.7,109.2 L318.7,109.1 L319.7,109.0 L320.6,108.9 L321.6,108.7 L322.6,108.6 L323.5,108.5 L324.5,108.4 L325.5,108.3 L326.4,108.2 L327.4,108.1 L328.4,107.9 L329.3,107.8 L330.3,107.7 L331.3,107.6 L332.3,107.5 L333.2,107.3 L334.2,107.2 L335.2,107.1 L336.1,107.0 L337.1,106.8 L338.1,106.7 L339.0,106.6 L340.0,106.5 L341.0,106.3 L341.9,106.2 L342.9,106.1 L343.9,105.9 L344.8,105.8 L345.8,105.6 L346.8,105.5 L347.7,105.3 L348.7,105.2 L349.7,105.1 L350.6,104.9 L351.6,104.7 L352.6,104.6 L353.5,104.4 L354.5,104.3 L355.5,104.1 L356.5,103.9 L357.4,103.7" fill="none" stroke="#8a4a2c" stroke-width="0.7"/>
<path d="M357.4,103.7 L357.9,103.0 L358.9,105.5 L359.8,105.5 L360.8,105.5 L361.8,105.6 L362.7,105.7 L363.7,105.6 L364.7,105.6 L365.6,105.8 L366.6,105.8 L367.6,105.8 L368.6,105.8 L369.5,105.6 L370.5,105.7 L371.5,105.7 L372.4,105.8 L373.4,105.8 L374.4,105.7 L375.3,105.7 L376.3,105.6 L377.3,105.7 L378.2,105.7 L379.2,105.7 L380.2,105.8 L381.1,105.7 L382.1,105.7 L383.1,105.8 L384.0,105.7 L385.0,105.8 L386.0,105.7 L386.9,105.7 L387.9,105.8 L388.9,105.8 L389.8,105.7 L390.8,105.6 L391.8,105.6 L392.8,105.7 L393.7,105.7 L394.7,105.8 L395.7,105.6 L396.6,105.8 L397.6,105.8 L398.6,105.7 L399.5,105.7 L400.5,105.8 L401.5,105.7 L402.4,105.8 L403.4,105.6 L404.4,105.7 L405.3,105.7 L406.3,105.7 L407.3,105.7 L408.2,105.6 L409.2,105.7 L410.2,105.7 L411.1,105.7 L412.1,105.8 L413.1,105.7 L414.0,105.7 L415.0,105.7 L416.0,105.8 L417.0,105.7 L417.9,105.7 L418.9,105.6 L419.9,105.8 L420.8,105.8 L421.8,105.7 L422.8,105.7 L423.7,105.7 L424.7,105.7 L425.7,105.7 L426.6,105.8 L427.6,105.8 L428.6,105.7 L429.5,105.7 L430.5,105.7 L431.5,105.7 L432.4,105.7 L433.4,105.7 L434.4,105.8 L435.3,105.8 L436.3,105.8 L437.3,105.7 L438.2,105.8 L439.2,105.8 L440.2,105.8 L441.2,105.8 L442.1,105.8 L443.1,105.7 L444.1,105.6" fill="none" stroke="#c27454" stroke-width="1.9" stroke-linejoin="round"/>
<line x1="270.3" y1="20.1" x2="270.3" y2="120.0" stroke="#222" stroke-width="0.9"/>
<line x1="269.90000000000003" y1="119.5" x2="464.29999999999995" y2="119.5" stroke="#222" stroke-width="0.9"/>
<line x1="267.5" y1="119.50" x2="270.3" y2="119.50" stroke="#222" stroke-width="0.8"/>
<text x="264.5" y="121.80" font-size="6.6" text-anchor="end" font-family="Liberation Sans, sans-serif" fill="#2a2a2a" stroke="#2a2a2a" stroke-width="0.12">0.0</text>
<line x1="267.5" y1="100.10" x2="270.3" y2="100.10" stroke="#222" stroke-width="0.8"/>
<text x="264.5" y="102.40" font-size="6.6" text-anchor="end" font-family="Liberation Sans, sans-serif" fill="#2a2a2a" stroke="#2a2a2a" stroke-width="0.12">0.1</text>
<line x1="267.5" y1="80.70" x2="270.3" y2="80.70" stroke="#222" stroke-width="0.8"/>
<text x="264.5" y="83.00" font-size="6.6" text-anchor="end" font-family="Liberation Sans, sans-serif" fill="#2a2a2a" stroke="#2a2a2a" stroke-width="0.12">0.2</text>
<line x1="267.5" y1="61.30" x2="270.3" y2="61.30" stroke="#222" stroke-width="0.8"/>
<text x="264.5" y="63.60" font-size="6.6" text-anchor="end" font-family="Liberation Sans, sans-serif" fill="#2a2a2a" stroke="#2a2a2a" stroke-width="0.12">0.3</text>
<line x1="267.5" y1="41.90" x2="270.3" y2="41.90" stroke="#222" stroke-width="0.8"/>
<text x="264.5" y="44.20" font-size="6.6" text-anchor="end" font-family="Liberation Sans, sans-serif" fill="#2a2a2a" stroke="#2a2a2a" stroke-width="0.12">0.4</text>
<line x1="267.5" y1="22.50" x2="270.3" y2="22.50" stroke="#222" stroke-width="0.8"/>
<text x="264.5" y="24.80" font-size="6.6" text-anchor="end" font-family="Liberation Sans, sans-serif" fill="#2a2a2a" stroke="#2a2a2a" stroke-width="0.12">0.5</text>
<line x1="270.30" y1="119.5" x2="270.30" y2="122.3" stroke="#222" stroke-width="0.8"/>
<text x="270.30" y="131.7" font-size="6.6" text-anchor="middle" font-family="Liberation Sans, sans-serif" fill="#2a2a2a" stroke="#2a2a2a" stroke-width="0.12">0</text>
<line x1="294.50" y1="119.5" x2="294.50" y2="122.3" stroke="#222" stroke-width="0.8"/>
<text x="294.50" y="131.7" font-size="6.6" text-anchor="middle" font-family="Liberation Sans, sans-serif" fill="#2a2a2a" stroke="#2a2a2a" stroke-width="0.12">50</text>
<line x1="318.70" y1="119.5" x2="318.70" y2="122.3" stroke="#222" stroke-width="0.8"/>
<text x="318.70" y="131.7" font-size="6.6" text-anchor="middle" font-family="Liberation Sans, sans-serif" fill="#2a2a2a" stroke="#2a2a2a" stroke-width="0.12">100</text>
<line x1="342.90" y1="119.5" x2="342.90" y2="122.3" stroke="#222" stroke-width="0.8"/>
<text x="342.90" y="131.7" font-size="6.6" text-anchor="middle" font-family="Liberation Sans, sans-serif" fill="#2a2a2a" stroke="#2a2a2a" stroke-width="0.12">150</text>
<line x1="367.10" y1="119.5" x2="367.10" y2="122.3" stroke="#222" stroke-width="0.8"/>
<text x="367.10" y="131.7" font-size="6.6" text-anchor="middle" font-family="Liberation Sans, sans-serif" fill="#2a2a2a" stroke="#2a2a2a" stroke-width="0.12">200</text>
<line x1="391.30" y1="119.5" x2="391.30" y2="122.3" stroke="#222" stroke-width="0.8"/>
<text x="391.30" y="131.7" font-size="6.6" text-anchor="middle" font-family="Liberation Sans, sans-serif" fill="#2a2a2a" stroke="#2a2a2a" stroke-width="0.12">250</text>
<line x1="415.50" y1="119.5" x2="415.50" y2="122.3" stroke="#222" stroke-width="0.8"/>
<text x="415.50" y="131.7" font-size="6.6" text-anchor="middle" font-family="Liberation Sans, sans-serif" fill="#2a2a2a" stroke="#2a2a2a" stroke-width="0.12">300</text>
<line x1="439.70" y1="119.5" x2="439.70" y2="122.3" stroke="#222" stroke-width="0.8"/>
<text x="439.70" y="131.7" font-size="6.6" text-anchor="middle" font-family="Liberation Sans, sans-serif" fill="#2a2a2a" stroke="#2a2a2a" stroke-width="0.12">350</text>
<line x1="463.90" y1="119.5" x2="463.90" y2="122.3" stroke="#222" stroke-width="0.8"/>
<text x="463.90" y="131.7" font-size="6.6" text-anchor="middle" font-family="Liberation Sans, sans-serif" fill="#2a2a2a" stroke="#2a2a2a" stroke-width="0.12">400</text>
<text x="0" y="0" transform="translate(249.4,69.9) rotate(-90)" font-size="8.6" font-weight="bold" text-anchor="middle" font-family="Liberation Sans, sans-serif" fill="#222" textLength="16.1" lengthAdjust="spacingAndGlyphs" stroke="#222" stroke-width="0.12">Bound</text>
<text x="368.1" y="143.7" font-size="8.6" font-weight="bold" text-anchor="middle" font-family="Liberation Sans, sans-serif" fill="#222" textLength="22.3" lengthAdjust="spacingAndGlyphs" stroke="#222" stroke-width="0.12">Seconds</text>
<text x="388.8" y="25" font-size="6.6" font-family="Liberation Sans, sans-serif" fill="#222" textLength="34" lengthAdjust="spacingAndGlyphs" stroke="#222" stroke-width="0.12">Dissociation</text>
<line x1="385.3" y1="24.4" x2="367.5" y2="30.4" stroke="#222" stroke-width="0.8"/><path d="M364.4,31.5 L368.6,28.2 L369.5,31.4 Z" fill="#111"/>
<line x1="470.8" y1="37.50" x2="481.6" y2="37.50" stroke="#3a2a34" stroke-width="1.1"/>
<line x1="474.5" y1="37.50" x2="477.5" y2="37.50" stroke="#d8a8b8" stroke-width="1.1"/>
<text x="485.3" y="39.80" font-size="6.8" font-family="Liberation Sans, sans-serif" fill="#2a2a2a" stroke="#2a2a2a" stroke-width="0.12">800 nM</text>
<line x1="470.8" y1="47.65" x2="481.6" y2="47.65" stroke="#2a4a50" stroke-width="1.1"/>
<line x1="474.5" y1="47.65" x2="477.5" y2="47.65" stroke="#6ab8c4" stroke-width="1.1"/>
<text x="485.3" y="49.95" font-size="6.8" font-family="Liberation Sans, sans-serif" fill="#2a2a2a" stroke="#2a2a2a" stroke-width="0.12">400 nM</text>
<line x1="470.8" y1="57.80" x2="481.6" y2="57.80" stroke="#4a5050" stroke-width="1.1"/>
<line x1="474.5" y1="57.80" x2="477.5" y2="57.80" stroke="#9aa8a8" stroke-width="1.1"/>
<text x="485.3" y="60.10" font-size="6.8" font-family="Liberation Sans, sans-serif" fill="#2a2a2a" stroke="#2a2a2a" stroke-width="0.12">200 nM</text>
<line x1="470.8" y1="67.95" x2="481.6" y2="67.95" stroke="#4a4040" stroke-width="1.1"/>
<line x1="474.5" y1="67.95" x2="477.5" y2="67.95" stroke="#d0b0a0" stroke-width="1.1"/>
<text x="485.3" y="70.25" font-size="6.8" font-family="Liberation Sans, sans-serif" fill="#2a2a2a" stroke="#2a2a2a" stroke-width="0.12">100 nM</text>
<line x1="470.8" y1="78.10" x2="481.6" y2="78.10" stroke="#4a3a38" stroke-width="1.1"/>
<line x1="474.5" y1="78.10" x2="477.5" y2="78.10" stroke="#a87868" stroke-width="1.1"/>
<text x="485.3" y="80.40" font-size="6.8" font-family="Liberation Sans, sans-serif" fill="#2a2a2a" stroke="#2a2a2a" stroke-width="0.12">50 nM</text>
<line x1="470.8" y1="88.25" x2="481.6" y2="88.25" stroke="#1a1a2a" stroke-width="1.1"/>
<line x1="474.5" y1="88.25" x2="477.5" y2="88.25" stroke="#303050" stroke-width="1.1"/>
<text x="485.3" y="90.55" font-size="6.8" font-family="Liberation Sans, sans-serif" fill="#2a2a2a" stroke="#2a2a2a" stroke-width="0.12">25 nM</text>
<line x1="470.8" y1="98.40" x2="481.6" y2="98.40" stroke="#2a3a6a" stroke-width="1.1"/>
<line x1="474.5" y1="98.40" x2="477.5" y2="98.40" stroke="#5a6aa8" stroke-width="1.1"/>
<text x="485.3" y="100.70" font-size="6.8" font-family="Liberation Sans, sans-serif" fill="#2a2a2a" stroke="#2a2a2a" stroke-width="0.12">12.5 nM</text>
<text x="324.1" y="171.8" font-size="12.2" font-weight="bold" font-family="Liberation Sans, sans-serif" fill="#111" stroke="#111" stroke-width="0.3">D</text>
<line x1="369.1" y1="174.5" x2="369.1" y2="271.3" stroke="#222" stroke-width="0.9"/>
<line x1="368.70000000000005" y1="270.8" x2="513.2" y2="270.8" stroke="#222" stroke-width="0.9"/>
<line x1="366.5" y1="270.80" x2="369.1" y2="270.80" stroke="#222" stroke-width="0.8"/>
<text x="363.5" y="273.10" font-size="6.6" text-anchor="end" font-family="Liberation Sans, sans-serif" fill="#2a2a2a" stroke="#2a2a2a" stroke-width="0.12">0</text>
<line x1="366.5" y1="246.90" x2="369.1" y2="246.90" stroke="#222" stroke-width="0.8"/>
<text x="363.5" y="249.20" font-size="6.6" text-anchor="end" font-family="Liberation Sans, sans-serif" fill="#2a2a2a" stroke="#2a2a2a" stroke-width="0.12">500</text>
<line x1="366.5" y1="223.00" x2="369.1" y2="223.00" stroke="#222" stroke-width="0.8"/>
<text x="363.5" y="225.30" font-size="6.6" text-anchor="end" font-family="Liberation Sans, sans-serif" fill="#2a2a2a" stroke="#2a2a2a" stroke-width="0.12">1000</text>
<line x1="366.5" y1="199.10" x2="369.1" y2="199.10" stroke="#222" stroke-width="0.8"/>
<text x="363.5" y="201.40" font-size="6.6" text-anchor="end" font-family="Liberation Sans, sans-serif" fill="#2a2a2a" stroke="#2a2a2a" stroke-width="0.12">1500</text>
<line x1="366.5" y1="175.20" x2="369.1" y2="175.20" stroke="#222" stroke-width="0.8"/>
<text x="363.5" y="177.50" font-size="6.6" text-anchor="end" font-family="Liberation Sans, sans-serif" fill="#2a2a2a" stroke="#2a2a2a" stroke-width="0.12">2000</text>
<line x1="369.10" y1="270.8" x2="369.10" y2="273.40000000000003" stroke="#222" stroke-width="0.8"/>
<text x="369.10" y="283.3" font-size="6.6" text-anchor="middle" font-family="Liberation Sans, sans-serif" fill="#2a2a2a" stroke="#2a2a2a" stroke-width="0.12">0</text>
<line x1="395.54" y1="270.8" x2="395.54" y2="273.40000000000003" stroke="#222" stroke-width="0.8"/>
<text x="395.54" y="283.3" font-size="6.6" text-anchor="middle" font-family="Liberation Sans, sans-serif" fill="#2a2a2a" stroke="#2a2a2a" stroke-width="0.12">20</text>
<line x1="421.98" y1="270.8" x2="421.98" y2="273.40000000000003" stroke="#222" stroke-width="0.8"/>
<text x="421.98" y="283.3" font-size="6.6" text-anchor="middle" font-family="Liberation Sans, sans-serif" fill="#2a2a2a" stroke="#2a2a2a" stroke-width="0.12">40</text>
<line x1="448.42" y1="270.8" x2="448.42" y2="273.40000000000003" stroke="#222" stroke-width="0.8"/>
<text x="448.42" y="283.3" font-size="6.6" text-anchor="middle" font-family="Liberation Sans, sans-serif" fill="#2a2a2a" stroke="#2a2a2a" stroke-width="0.12">60</text>
<line x1="474.86" y1="270.8" x2="474.86" y2="273.40000000000003" stroke="#222" stroke-width="0.8"/>
<text x="474.86" y="283.3" font-size="6.6" text-anchor="middle" font-family="Liberation Sans, sans-serif" fill="#2a2a2a" stroke="#2a2a2a" stroke-width="0.12">80</text>
<line x1="501.30" y1="270.8" x2="501.30" y2="273.40000000000003" stroke="#222" stroke-width="0.8"/>
<text x="501.30" y="283.3" font-size="6.6" text-anchor="middle" font-family="Liberation Sans, sans-serif" fill="#2a2a2a" stroke="#2a2a2a" stroke-width="0.12">100</text>
<text x="0" y="0" transform="translate(341.2,218.1) rotate(-90)" font-size="7.4" text-anchor="middle" font-family="Liberation Sans, sans-serif" fill="#222" stroke="#222" stroke-width="0.12" textLength="65.6" lengthAdjust="spacingAndGlyphs">VpreB1 fab-alexa-647 MFI</text>
<text x="441" y="295.3" font-size="8.2" text-anchor="middle" font-family="Liberation Sans, sans-serif" fill="#222" stroke="#222" stroke-width="0.15" textLength="44.5" lengthAdjust="spacingAndGlyphs">[VpreB1 fab] nM</text>
<path d="M369.10,245.94 L369.10,245.94 L369.10,245.91 L369.11,245.87 L369.11,245.81 L369.12,245.73 L369.13,245.64 L369.14,245.53 L369.15,245.40 L369.17,245.26 L369.18,245.10 L369.20,244.93 L369.22,244.74 L369.24,244.53 L369.26,244.31 L369.29,244.08 L369.31,243.83 L369.34,243.57 L369.37,243.29 L369.40,243.00 L369.43,242.70 L369.46,242.39 L369.50,242.06 L369.54,241.72 L369.58,241.37 L369.62,241.01 L369.66,240.64 L369.70,240.26 L369.75,239.87 L369.79,239.47 L369.84,239.06 L369.89,238.65 L369.95,238.23 L370.00,237.80 L370.06,237.36 L370.11,236.92 L370.17,236.47 L370.23,236.01 L370.29,235.55 L370.36,235.09 L370.42,234.62 L370.49,234.15 L370.56,233.68 L370.63,233.20 L370.70,232.72 L370.77,232.23 L370.85,231.75 L370.93,231.26 L371.00,230.77 L371.08,230.29 L371.17,229.80 L371.25,229.31 L371.33,228.82 L371.42,228.33 L371.51,227.84 L371.60,227.35 L371.69,226.86 L371.78,226.38 L371.88,225.89 L371.98,225.41 L372.07,224.93 L372.17,224.45 L372.28,223.98 L372.38,223.50 L372.48,223.03 L372.59,222.56 L372.70,222.10 L372.81,221.63 L372.92,221.17 L373.03,220.72 L373.15,220.27 L373.27,219.82 L373.38,219.37 L373.50,218.93 L373.62,218.49 L373.75,218.05 L373.87,217.62 L374.00,217.20 L374.13,216.77 L374.26,216.36 L374.39,215.94 L374.52,215.53 L374.66,215.12 L374.79,214.72 L374.93,214.32 L375.07,213.93 L375.21,213.54 L375.35,213.16 L375.50,212.77 L375.64,212.40 L375.79,212.03 L375.94,211.66 L376.09,211.29 L376.25,210.93 L376.40,210.58 L376.56,210.23 L376.71,209.88 L376.87,209.54 L377.04,209.20 L377.20,208.86 L377.36,208.53 L377.53,208.21 L377.70,207.88 L377.87,207.57 L378.04,207.25 L378.21,206.94 L378.38,206.64 L378.56,206.33 L378.74,206.03 L378.92,205.74 L379.10,205.45 L379.28,205.16 L379.46,204.88 L379.65,204.60 L379.84,204.32 L380.03,204.05 L380.22,203.78 L380.41,203.51 L380.60,203.25 L380.80,202.99 L381.00,202.74 L381.20,202.49 L381.40,202.24 L381.60,201.99 L381.80,201.75 L382.01,201.51 L382.22,201.28 L382.43,201.04 L382.64,200.81 L382.85,200.59 L383.06,200.36 L383.28,200.14 L383.50,199.93 L383.72,199.71 L383.94,199.50 L384.16,199.29 L384.38,199.08 L384.61,198.88 L384.84,198.68 L385.06,198.48 L385.29,198.29 L385.53,198.09 L385.76,197.90 L386.00,197.72 L386.23,197.53 L386.47,197.35 L386.71,197.17 L386.95,196.99 L387.20,196.81 L387.44,196.64 L387.69,196.47 L387.94,196.30 L388.19,196.13 L388.44,195.97 L388.70,195.80 L388.95,195.64 L389.21,195.49 L389.47,195.33 L389.73,195.17 L389.99,195.02 L390.25,194.87 L390.52,194.72 L390.78,194.58 L391.05,194.43 L391.32,194.29 L391.59,194.15 L391.87,194.01 L392.14,193.87 L392.42,193.74 L392.70,193.60 L392.98,193.47 L393.26,193.34 L393.54,193.21 L393.83,193.08 L394.12,192.96 L394.40,192.83 L394.69,192.71 L394.99,192.59 L395.28,192.47 L395.57,192.35 L395.87,192.23 L396.17,192.12 L396.47,192.00 L396.77,191.89 L397.07,191.78 L397.38,191.67 L397.68,191.56 L397.99,191.45 L398.30,191.35 L398.61,191.24 L398.93,191.14 L399.24,191.04 L399.56,190.94 L399.88,190.84 L400.20,190.74 L400.52,190.64 L400.84,190.55 L401.17,190.45 L401.49,190.36 L401.82,190.26 L402.15,190.17 L402.48,190.08 L402.81,189.99 L403.15,189.90 L403.49,189.82 L403.82,189.73 L404.16,189.64 L404.50,189.56 L404.85,189.48 L405.19,189.39 L405.54,189.31 L405.89,189.23 L406.23,189.15 L406.59,189.07 L406.94,188.99 L407.29,188.92 L407.65,188.84 L408.01,188.76 L408.37,188.69 L408.73,188.62 L409.09,188.54 L409.45,188.47 L409.82,188.40 L410.19,188.33 L410.56,188.26 L410.93,188.19 L411.30,188.12 L411.68,188.05 L412.05,187.99 L412.43,187.92 L412.81,187.85 L413.19,187.79 L413.57,187.73 L413.96,187.66 L414.34,187.60 L414.73,187.54 L415.12,187.48 L415.51,187.42 L415.90,187.36 L416.30,187.30 L416.69,187.24 L417.09,187.18 L417.49,187.12 L417.89,187.06 L418.29,187.01 L418.70,186.95 L419.10,186.90 L419.51,186.84 L419.92,186.79 L420.33,186.73 L420.74,186.68 L421.15,186.63 L421.57,186.58 L421.99,186.53 L422.41,186.47 L422.83,186.42 L423.25,186.37 L423.67,186.33 L424.10,186.28 L424.53,186.23 L424.95,186.18 L425.38,186.13 L425.82,186.09 L426.25,186.04 L426.69,185.99 L427.12,185.95 L427.56,185.90 L428.00,185.86 L428.44,185.81 L428.89,185.77 L429.33,185.73 L429.78,185.68 L430.23,185.64 L430.68,185.60 L431.13,185.56 L431.59,185.51 L432.04,185.47 L432.50,185.43 L432.96,185.39 L433.42,185.35 L433.88,185.31 L434.34,185.27 L434.81,185.24 L435.27,185.20 L435.74,185.16 L436.21,185.12 L436.68,185.08 L437.16,185.05 L437.63,185.01 L438.11,184.97 L438.59,184.94 L439.07,184.90 L439.55,184.87 L440.03,184.83 L440.52,184.80 L441.00,184.76 L441.49,184.73 L441.98,184.70 L442.47,184.66 L442.97,184.63 L443.46,184.60 L443.96,184.56 L444.46,184.53 L444.96,184.50 L445.46,184.47 L445.96,184.44 L446.47,184.41 L446.97,184.37 L447.48,184.34 L447.99,184.31 L448.50,184.28 L449.02,184.25 L449.53,184.22 L450.05,184.19 L450.56,184.17 L451.08,184.14 L451.61,184.11 L452.13,184.08 L452.65,184.05 L453.18,184.02 L453.71,184.00 L454.24,183.97 L454.77,183.94 L455.30,183.91 L455.84,183.89 L456.37,183.86 L456.91,183.84 L457.45,183.81 L457.99,183.78 L458.53,183.76 L459.08,183.73 L459.62,183.71 L460.17,183.68 L460.72,183.66 L461.27,183.63 L461.83,183.61 L462.38,183.58 L462.94,183.56 L463.49,183.54 L464.05,183.51 L464.61,183.49 L465.18,183.47 L465.74,183.44 L466.31,183.42 L466.88,183.40 L467.44,183.38 L468.02,183.35 L468.59,183.33 L469.16,183.31 L469.74,183.29 L470.32,183.27 L470.89,183.24 L471.48,183.22 L472.06,183.20 L472.64,183.18 L473.23,183.16 L473.82,183.14 L474.40,183.12 L475.00,183.10 L475.59,183.08 L476.18,183.06 L476.78,183.04 L477.38,183.02 L477.97,183.00 L478.57,182.98 L479.18,182.96 L479.78,182.94 L480.39,182.92 L480.99,182.91 L481.60,182.89 L482.21,182.87 L482.83,182.85 L483.44,182.83 L484.06,182.81 L484.67,182.80 L485.29,182.78 L485.91,182.76 L486.53,182.74 L487.16,182.72 L487.78,182.71 L488.41,182.69 L489.04,182.67 L489.67,182.66 L490.30,182.64 L490.94,182.62 L491.57,182.61 L492.21,182.59 L492.85,182.57 L493.49,182.56 L494.13,182.54 L494.77,182.53 L495.42,182.51 L496.06,182.49 L496.71,182.48 L497.36,182.46 L498.02,182.45 L498.67,182.43 L499.32,182.42 L499.98,182.40 L500.64,182.39 L501.30,182.37" fill="none" stroke="#b80f2c" stroke-width="1.0"/>
<path d="M369.10,246.66 L501.30,244.75" fill="none" stroke="#2a6090" stroke-width="0.9"/>
<rect x="367.20" y="243.09" width="3.8" height="3.8" fill="#c8102e"/>
<rect x="369.32" y="219.19" width="3.8" height="3.8" fill="#c8102e"/>
<rect x="370.51" y="213.93" width="3.8" height="3.8" fill="#c8102e"/>
<rect x="372.09" y="212.26" width="3.8" height="3.8" fill="#c8102e"/>
<rect x="374.60" y="207.72" width="3.8" height="3.8" fill="#c8102e"/>
<rect x="377.64" y="207.96" width="3.8" height="3.8" fill="#c8102e"/>
<rect x="379.36" y="207.96" width="3.8" height="3.8" fill="#c8102e"/>
<rect x="384.12" y="197.20" width="3.8" height="3.8" fill="#c8102e"/>
<rect x="393.11" y="192.42" width="3.8" height="3.8" fill="#c8102e"/>
<rect x="405.93" y="189.55" width="3.8" height="3.8" fill="#c8102e"/>
<rect x="425.63" y="183.58" width="3.8" height="3.8" fill="#c8102e"/>
<rect x="455.38" y="180.47" width="3.8" height="3.8" fill="#c8102e"/>
<rect x="499.40" y="179.04" width="3.8" height="3.8" fill="#c8102e"/>
<circle cx="369.10" cy="245.71" r="1.9" fill="#1f4e79"/>
<circle cx="370.29" cy="246.66" r="1.9" fill="#1f4e79"/>
<circle cx="371.22" cy="246.90" r="1.9" fill="#1f4e79"/>
<circle cx="372.41" cy="245.94" r="1.9" fill="#1f4e79"/>
<circle cx="374.26" cy="244.75" r="1.9" fill="#1f4e79"/>
<circle cx="376.50" cy="245.94" r="1.9" fill="#1f4e79"/>
<circle cx="380.47" cy="247.14" r="1.9" fill="#1f4e79"/>
<circle cx="386.02" cy="246.18" r="1.9" fill="#1f4e79"/>
<circle cx="395.01" cy="244.03" r="1.9" fill="#1f4e79"/>
<circle cx="407.83" cy="244.03" r="1.9" fill="#1f4e79"/>
<circle cx="427.53" cy="245.94" r="1.9" fill="#1f4e79"/>
<circle cx="457.28" cy="241.64" r="1.9" fill="#1f4e79"/>
<circle cx="501.30" cy="245.94" r="1.9" fill="#1f4e79"/>
<line x1="458.4" y1="198.4" x2="467.8" y2="198.4" stroke="#c8102e" stroke-width="0.9"/><rect x="461.4" y="196.6" width="3.6" height="3.6" fill="#c8102e"/>
<text x="472" y="200.6" font-size="6.7" font-family="Liberation Sans, sans-serif" fill="#2a2a2a" stroke="#2a2a2a" stroke-width="0.12">NALM-6</text>
<line x1="458.4" y1="209.1" x2="467.8" y2="209.1" stroke="#2a6090" stroke-width="0.9"/><circle cx="463.2" cy="209.1" r="1.8" fill="#1f4e79"/>
<text x="472" y="211.3" font-size="6.7" font-family="Liberation Sans, sans-serif" fill="#2a2a2a" stroke="#2a2a2a" stroke-width="0.12">REH</text>
<text x="325.7" y="323.6" font-size="12.2" font-weight="bold" font-family="Liberation Sans, sans-serif" fill="#111" stroke="#111" stroke-width="0.3">E</text>
<rect x="377.8" y="435.35" width="16.90" height="17.95" fill="#2ca8e0"/>
<rect x="403.2" y="380.68" width="15.80" height="72.62" fill="#e9067f"/>
<rect x="444.5" y="431.60" width="16.50" height="21.70" fill="#2ca8e0"/>
<rect x="469.6" y="436.61" width="16.50" height="16.69" fill="#e9067f"/>
<line x1="386.2" y1="434.35" x2="386.2" y2="436.36" stroke="#2a2a2a" stroke-width="1"/>
<line x1="381.7" y1="434.35" x2="390.7" y2="434.35" stroke="#2a2a2a" stroke-width="1"/>
<line x1="381.7" y1="436.36" x2="390.7" y2="436.36" stroke="#2a2a2a" stroke-width="1"/>
<line x1="411.2" y1="368.16" x2="411.2" y2="393.20" stroke="#2a2a2a" stroke-width="1"/>
<line x1="406.7" y1="368.16" x2="415.7" y2="368.16" stroke="#2a2a2a" stroke-width="1"/>
<line x1="406.7" y1="393.20" x2="415.7" y2="393.20" stroke="#2a2a2a" stroke-width="1"/>
<line x1="452.8" y1="427.84" x2="452.8" y2="435.35" stroke="#2a2a2a" stroke-width="1"/>
<line x1="448.3" y1="427.84" x2="457.3" y2="427.84" stroke="#2a2a2a" stroke-width="1"/>
<line x1="448.3" y1="435.35" x2="457.3" y2="435.35" stroke="#2a2a2a" stroke-width="1"/>
<line x1="477.8" y1="433.69" x2="477.8" y2="439.53" stroke="#2a2a2a" stroke-width="1"/>
<line x1="473.3" y1="433.69" x2="482.3" y2="433.69" stroke="#2a2a2a" stroke-width="1"/>
<line x1="473.3" y1="439.53" x2="482.3" y2="439.53" stroke="#2a2a2a" stroke-width="1"/>
<circle cx="382.3" cy="432.0" r="1.9" fill="#0a0a0a"/>
<circle cx="387.5" cy="432.3" r="1.9" fill="#0a0a0a"/>
<circle cx="379.6" cy="435.6" r="1.9" fill="#0a0a0a"/>
<circle cx="384.8" cy="435.6" r="1.9" fill="#0a0a0a"/>
<circle cx="390.0" cy="435.6" r="1.9" fill="#0a0a0a"/>
<circle cx="392.4" cy="434.7" r="1.9" fill="#0a0a0a"/>
<circle cx="404.9" cy="365.1" r="1.9" fill="#0a0a0a"/>
<circle cx="411.2" cy="366.1" r="1.9" fill="#0a0a0a"/>
<circle cx="404.9" cy="384.2" r="1.9" fill="#0a0a0a"/>
<circle cx="417.4" cy="385.9" r="1.9" fill="#0a0a0a"/>
<circle cx="411.2" cy="387.9" r="1.9" fill="#0a0a0a"/>
<circle cx="411.2" cy="393.6" r="1.9" fill="#0a0a0a"/>
<circle cx="446.5" cy="430.0" r="1.9" fill="#0a0a0a"/>
<circle cx="454.8" cy="427.7" r="1.9" fill="#0a0a0a"/>
<circle cx="458.9" cy="429.7" r="1.9" fill="#0a0a0a"/>
<circle cx="454.4" cy="432.2" r="1.9" fill="#0a0a0a"/>
<circle cx="450.6" cy="436.6" r="1.9" fill="#0a0a0a"/>
<circle cx="454.8" cy="434.7" r="1.9" fill="#0a0a0a"/>
<circle cx="471.3" cy="433.8" r="1.9" fill="#0a0a0a"/>
<circle cx="477.5" cy="432.7" r="1.9" fill="#0a0a0a"/>
<circle cx="483.6" cy="434.7" r="1.9" fill="#0a0a0a"/>
<circle cx="477.5" cy="437.6" r="1.9" fill="#0a0a0a"/>
<circle cx="471.3" cy="441.3" r="1.9" fill="#0a0a0a"/>
<circle cx="483.6" cy="440.4" r="1.9" fill="#0a0a0a"/>
<line x1="369.1" y1="327.5" x2="369.1" y2="453.8" stroke="#222" stroke-width="0.9"/>
<line x1="368.70000000000005" y1="453.3" x2="493.5" y2="453.3" stroke="#222" stroke-width="0.9"/>
<line x1="366.5" y1="453.30" x2="369.1" y2="453.30" stroke="#222" stroke-width="0.8"/>
<text x="362.1" y="455.60" font-size="6.6" text-anchor="end" font-family="Liberation Sans, sans-serif" fill="#2a2a2a" stroke="#2a2a2a" stroke-width="0.12">0</text>
<line x1="366.5" y1="411.57" x2="369.1" y2="411.57" stroke="#222" stroke-width="0.8"/>
<text x="362.1" y="413.87" font-size="6.6" text-anchor="end" font-family="Liberation Sans, sans-serif" fill="#2a2a2a" stroke="#2a2a2a" stroke-width="0.12">5000</text>
<line x1="366.5" y1="369.83" x2="369.1" y2="369.83" stroke="#222" stroke-width="0.8"/>
<text x="362.1" y="372.13" font-size="6.6" text-anchor="end" font-family="Liberation Sans, sans-serif" fill="#2a2a2a" stroke="#2a2a2a" stroke-width="0.12">10000</text>
<line x1="366.5" y1="328.10" x2="369.1" y2="328.10" stroke="#222" stroke-width="0.8"/>
<text x="362.1" y="330.40" font-size="6.6" text-anchor="end" font-family="Liberation Sans, sans-serif" fill="#2a2a2a" stroke="#2a2a2a" stroke-width="0.12">15000</text>
<line x1="398.8" y1="453.3" x2="398.8" y2="455.7" stroke="#222" stroke-width="0.8"/>
<line x1="465.0" y1="453.3" x2="465.0" y2="455.7" stroke="#222" stroke-width="0.8"/>
<text x="398.4" y="465.5" font-size="6.8" text-anchor="middle" font-family="Liberation Sans, sans-serif" fill="#333" stroke="#333" stroke-width="0.12">Mean APC</text>
<text x="465.4" y="465.5" font-size="6.8" text-anchor="middle" font-family="Liberation Sans, sans-serif" fill="#333" stroke="#333" stroke-width="0.12">Mean FITC</text>
<text x="431.9" y="478.1" font-size="8.6" text-anchor="middle" font-family="Liberation Sans, sans-serif" fill="#222" stroke="#222" stroke-width="0.2" textLength="57.7" lengthAdjust="spacingAndGlyphs">Fluorescence channel</text>
<text x="0" y="0" transform="translate(338.5,389.3) rotate(-90)" font-size="8.4" text-anchor="middle" font-family="Liberation Sans, sans-serif" fill="#222" stroke="#222" stroke-width="0.2" textLength="10.6" lengthAdjust="spacingAndGlyphs">RFU</text>
<path d="M385.4,421.5 L385.4,351.1 L410.8,351.1 L410.8,358.4" fill="none" stroke="#333" stroke-width="0.8"/>
<text x="398.2" y="350.6" font-size="7.6" text-anchor="middle" font-family="Liberation Sans, sans-serif" fill="#333" stroke="#333" stroke-width="0.12">****</text>
<path d="M452.3,421.2 L452.3,416.1 L479.5,416.1 L479.5,421.2" fill="none" stroke="#333" stroke-width="0.8"/>
<text x="466" y="413" font-size="7" font-style="italic" text-anchor="middle" font-family="Liberation Sans, sans-serif" fill="#333" stroke="#333" stroke-width="0.12">ns</text>
<rect x="445.1" y="332.8" width="12.1" height="6" fill="#2ca8e0"/>
<rect x="445.1" y="344.9" width="12.1" height="6.1" fill="#e9067f"/>
<text x="460.2" y="338.4" font-size="6.8" font-family="Liberation Sans, sans-serif" fill="#2a2a2a" stroke="#2a2a2a" stroke-width="0.12">0 minutes</text>
<text x="460.2" y="350.5" font-size="6.8" font-family="Liberation Sans, sans-serif" fill="#2a2a2a" stroke="#2a2a2a" stroke-width="0.12">1 hour</text>
<rect x="0.5" y="0.5" width="519" height="484" fill="none" stroke="#4a4a4a" stroke-width="1"/>
</svg>
</body></html>
